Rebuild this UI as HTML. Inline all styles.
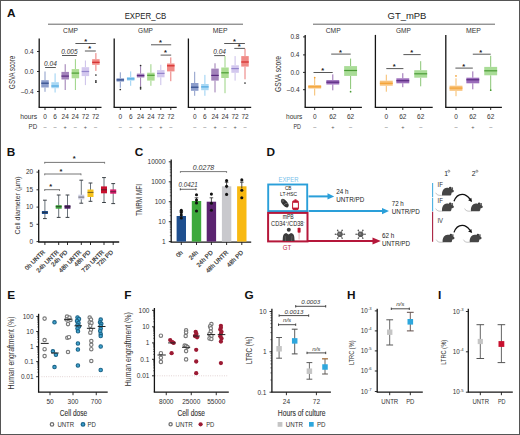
<!DOCTYPE html>
<html><head><meta charset="utf-8"><title>Figure</title>
<style>
html,body{margin:0;padding:0;background:#fff;}
body{width:520px;height:435px;overflow:hidden;}
svg{display:block;font-family:"Liberation Sans", sans-serif;}
</style></head><body>
<svg width="520" height="435" viewBox="0 0 520 435">
<rect width="520" height="435" fill="#fff"/>
<rect x="0.5" y="0.5" width="519" height="434" fill="none" stroke="#555" stroke-width="1"/>
<text x="6.90" y="16.60" font-size="11.8" text-anchor="start" fill="#111" font-weight="bold">A</text>
<text x="145.50" y="19.40" font-size="8.7" text-anchor="middle" fill="#222" textLength="41.7" lengthAdjust="spacingAndGlyphs">EXPER_CB</text>
<line x1="48.00" y1="24.20" x2="243.00" y2="24.20" stroke="#555" stroke-width="0.9"/>
<text x="407.00" y="19.20" font-size="8.7" text-anchor="middle" fill="#222" textLength="38.9" lengthAdjust="spacingAndGlyphs">GT_mPB</text>
<line x1="313.00" y1="24.20" x2="495.00" y2="24.20" stroke="#555" stroke-width="0.9"/>
<text x="70.50" y="32.90" font-size="6.6" text-anchor="middle" fill="#333" textLength="14.9" lengthAdjust="spacingAndGlyphs">CMP</text>
<line x1="39.20" y1="38.50" x2="39.20" y2="107.30" stroke="#151515" stroke-width="1.3"/>
<line x1="38.55" y1="107.30" x2="101.50" y2="107.30" stroke="#151515" stroke-width="1.3"/>
<line x1="45.00" y1="107.30" x2="45.00" y2="110.00" stroke="#151515" stroke-width="0.9"/>
<line x1="45.00" y1="71.50" x2="45.00" y2="80.20" stroke="#7d90c2" stroke-width="0.9"/>
<line x1="45.00" y1="87.50" x2="45.00" y2="91.80" stroke="#7d90c2" stroke-width="0.9"/>
<rect x="41.25" y="80.20" width="7.50" height="7.30" fill="#8c9dcb"/>
<line x1="41.25" y1="83.20" x2="48.75" y2="83.20" stroke="#2f4a8a" stroke-width="1.2"/>
<line x1="55.10" y1="107.30" x2="55.10" y2="110.00" stroke="#151515" stroke-width="0.9"/>
<line x1="55.10" y1="73.40" x2="55.10" y2="82.20" stroke="#8ccaf0" stroke-width="0.9"/>
<line x1="55.10" y1="88.20" x2="55.10" y2="92.50" stroke="#8ccaf0" stroke-width="0.9"/>
<rect x="51.35" y="82.20" width="7.50" height="6.00" fill="#a9d8f4"/>
<line x1="51.35" y1="86.00" x2="58.85" y2="86.00" stroke="#4aa6e0" stroke-width="1.2"/>
<line x1="65.20" y1="107.30" x2="65.20" y2="110.00" stroke="#151515" stroke-width="0.9"/>
<line x1="65.20" y1="64.20" x2="65.20" y2="71.90" stroke="#8e6aa8" stroke-width="0.9"/>
<line x1="65.20" y1="79.50" x2="65.20" y2="90.00" stroke="#8e6aa8" stroke-width="0.9"/>
<rect x="61.45" y="71.90" width="7.50" height="7.60" fill="#a383bb"/>
<line x1="61.45" y1="76.10" x2="68.95" y2="76.10" stroke="#5a2a80" stroke-width="1.2"/>
<line x1="75.40" y1="107.30" x2="75.40" y2="110.00" stroke="#151515" stroke-width="0.9"/>
<line x1="75.40" y1="59.20" x2="75.40" y2="69.10" stroke="#8fce74" stroke-width="0.9"/>
<line x1="75.40" y1="78.30" x2="75.40" y2="90.00" stroke="#8fce74" stroke-width="0.9"/>
<rect x="71.65" y="69.10" width="7.50" height="9.20" fill="#acdd92"/>
<line x1="71.65" y1="73.10" x2="79.15" y2="73.10" stroke="#4c9e34" stroke-width="1.2"/>
<line x1="85.40" y1="107.30" x2="85.40" y2="110.00" stroke="#151515" stroke-width="0.9"/>
<line x1="85.40" y1="60.50" x2="85.40" y2="67.20" stroke="#c4b8e6" stroke-width="0.9"/>
<line x1="85.40" y1="76.10" x2="85.40" y2="85.10" stroke="#c4b8e6" stroke-width="0.9"/>
<rect x="81.65" y="67.20" width="7.50" height="8.90" fill="#d3c8ee"/>
<line x1="81.65" y1="71.50" x2="89.15" y2="71.50" stroke="#9586cc" stroke-width="1.2"/>
<line x1="95.90" y1="107.30" x2="95.90" y2="110.00" stroke="#151515" stroke-width="0.9"/>
<line x1="95.90" y1="53.10" x2="95.90" y2="59.20" stroke="#e86a68" stroke-width="0.9"/>
<line x1="95.90" y1="64.80" x2="95.90" y2="70.90" stroke="#e86a68" stroke-width="0.9"/>
<rect x="92.15" y="59.20" width="7.50" height="5.60" fill="#f08a86"/>
<line x1="92.15" y1="62.30" x2="99.65" y2="62.30" stroke="#d42a2a" stroke-width="1.2"/>
<circle cx="95.90" cy="75.00" r="0.85" fill="#2a2a2a"/>
<circle cx="95.90" cy="80.80" r="0.85" fill="#2a2a2a"/>
<circle cx="95.90" cy="82.20" r="0.85" fill="#2a2a2a"/>
<text x="145.50" y="32.90" font-size="6.6" text-anchor="middle" fill="#333" textLength="14.9" lengthAdjust="spacingAndGlyphs">GMP</text>
<line x1="114.20" y1="38.50" x2="114.20" y2="107.30" stroke="#151515" stroke-width="1.3"/>
<line x1="113.55" y1="107.30" x2="176.70" y2="107.30" stroke="#151515" stroke-width="1.3"/>
<line x1="120.30" y1="107.30" x2="120.30" y2="110.00" stroke="#151515" stroke-width="0.9"/>
<line x1="120.30" y1="72.30" x2="120.30" y2="78.30" stroke="#7d90c2" stroke-width="0.9"/>
<line x1="120.30" y1="81.60" x2="120.30" y2="87.80" stroke="#7d90c2" stroke-width="0.9"/>
<rect x="116.55" y="78.30" width="7.50" height="3.30" fill="#8c9dcb"/>
<line x1="116.55" y1="79.90" x2="124.05" y2="79.90" stroke="#2f4a8a" stroke-width="1.2"/>
<circle cx="120.30" cy="89.50" r="0.85" fill="#2a2a2a"/>
<line x1="130.70" y1="107.30" x2="130.70" y2="110.00" stroke="#151515" stroke-width="0.9"/>
<line x1="130.70" y1="71.40" x2="130.70" y2="77.00" stroke="#8ccaf0" stroke-width="0.9"/>
<line x1="130.70" y1="80.60" x2="130.70" y2="85.80" stroke="#8ccaf0" stroke-width="0.9"/>
<rect x="126.95" y="77.00" width="7.50" height="3.60" fill="#a9d8f4"/>
<line x1="126.95" y1="78.90" x2="134.45" y2="78.90" stroke="#4aa6e0" stroke-width="1.2"/>
<line x1="140.60" y1="107.30" x2="140.60" y2="110.00" stroke="#151515" stroke-width="0.9"/>
<line x1="140.60" y1="66.20" x2="140.60" y2="73.60" stroke="#8e6aa8" stroke-width="0.9"/>
<line x1="140.60" y1="77.50" x2="140.60" y2="86.50" stroke="#8e6aa8" stroke-width="0.9"/>
<rect x="136.85" y="73.60" width="7.50" height="3.90" fill="#a383bb"/>
<line x1="136.85" y1="75.60" x2="144.35" y2="75.60" stroke="#5a2a80" stroke-width="1.2"/>
<circle cx="140.60" cy="65.50" r="0.85" fill="#2a2a2a"/>
<circle cx="140.60" cy="87.30" r="0.85" fill="#2a2a2a"/>
<circle cx="140.60" cy="88.80" r="0.85" fill="#2a2a2a"/>
<line x1="150.90" y1="107.30" x2="150.90" y2="110.00" stroke="#151515" stroke-width="0.9"/>
<line x1="150.90" y1="64.20" x2="150.90" y2="72.70" stroke="#8fce74" stroke-width="0.9"/>
<line x1="150.90" y1="80.60" x2="150.90" y2="85.80" stroke="#8fce74" stroke-width="0.9"/>
<rect x="147.15" y="72.70" width="7.50" height="7.90" fill="#acdd92"/>
<line x1="147.15" y1="75.30" x2="154.65" y2="75.30" stroke="#4c9e34" stroke-width="1.2"/>
<line x1="160.80" y1="107.30" x2="160.80" y2="110.00" stroke="#151515" stroke-width="0.9"/>
<line x1="160.80" y1="64.80" x2="160.80" y2="70.10" stroke="#c4b8e6" stroke-width="0.9"/>
<line x1="160.80" y1="77.30" x2="160.80" y2="85.10" stroke="#c4b8e6" stroke-width="0.9"/>
<rect x="157.05" y="70.10" width="7.50" height="7.20" fill="#d3c8ee"/>
<line x1="157.05" y1="73.40" x2="164.55" y2="73.40" stroke="#9586cc" stroke-width="1.2"/>
<line x1="170.80" y1="107.30" x2="170.80" y2="110.00" stroke="#151515" stroke-width="0.9"/>
<line x1="170.80" y1="57.40" x2="170.80" y2="63.50" stroke="#e86a68" stroke-width="0.9"/>
<line x1="170.80" y1="71.40" x2="170.80" y2="81.20" stroke="#e86a68" stroke-width="0.9"/>
<rect x="167.05" y="63.50" width="7.50" height="7.90" fill="#f08a86"/>
<line x1="167.05" y1="65.80" x2="174.55" y2="65.80" stroke="#d42a2a" stroke-width="1.2"/>
<text x="220.20" y="32.90" font-size="6.6" text-anchor="middle" fill="#333" textLength="14.9" lengthAdjust="spacingAndGlyphs">MEP</text>
<line x1="188.40" y1="38.50" x2="188.40" y2="107.30" stroke="#151515" stroke-width="1.3"/>
<line x1="187.75" y1="107.30" x2="251.20" y2="107.30" stroke="#151515" stroke-width="1.3"/>
<line x1="194.70" y1="107.30" x2="194.70" y2="110.00" stroke="#151515" stroke-width="0.9"/>
<line x1="194.70" y1="71.80" x2="194.70" y2="83.00" stroke="#7d90c2" stroke-width="0.9"/>
<line x1="194.70" y1="90.80" x2="194.70" y2="95.80" stroke="#7d90c2" stroke-width="0.9"/>
<rect x="190.95" y="83.00" width="7.50" height="7.80" fill="#8c9dcb"/>
<line x1="190.95" y1="87.20" x2="198.45" y2="87.20" stroke="#2f4a8a" stroke-width="1.2"/>
<line x1="204.90" y1="107.30" x2="204.90" y2="110.00" stroke="#151515" stroke-width="0.9"/>
<line x1="204.90" y1="74.90" x2="204.90" y2="84.00" stroke="#8ccaf0" stroke-width="0.9"/>
<line x1="204.90" y1="90.20" x2="204.90" y2="95.80" stroke="#8ccaf0" stroke-width="0.9"/>
<rect x="201.15" y="84.00" width="7.50" height="6.20" fill="#a9d8f4"/>
<line x1="201.15" y1="86.90" x2="208.65" y2="86.90" stroke="#4aa6e0" stroke-width="1.2"/>
<line x1="215.00" y1="107.30" x2="215.00" y2="110.00" stroke="#151515" stroke-width="0.9"/>
<line x1="215.00" y1="63.30" x2="215.00" y2="68.60" stroke="#8e6aa8" stroke-width="0.9"/>
<line x1="215.00" y1="80.60" x2="215.00" y2="92.40" stroke="#8e6aa8" stroke-width="0.9"/>
<rect x="211.25" y="68.60" width="7.50" height="12.00" fill="#a383bb"/>
<line x1="211.25" y1="75.40" x2="218.75" y2="75.40" stroke="#5a2a80" stroke-width="1.2"/>
<line x1="225.00" y1="107.30" x2="225.00" y2="110.00" stroke="#151515" stroke-width="0.9"/>
<line x1="225.00" y1="56.10" x2="225.00" y2="67.50" stroke="#8fce74" stroke-width="0.9"/>
<line x1="225.00" y1="78.00" x2="225.00" y2="93.20" stroke="#8fce74" stroke-width="0.9"/>
<rect x="221.25" y="67.50" width="7.50" height="10.50" fill="#acdd92"/>
<line x1="221.25" y1="72.80" x2="228.75" y2="72.80" stroke="#4c9e34" stroke-width="1.2"/>
<line x1="235.10" y1="107.30" x2="235.10" y2="110.00" stroke="#151515" stroke-width="0.9"/>
<line x1="235.10" y1="56.10" x2="235.10" y2="65.30" stroke="#c4b8e6" stroke-width="0.9"/>
<line x1="235.10" y1="72.80" x2="235.10" y2="80.60" stroke="#c4b8e6" stroke-width="0.9"/>
<rect x="231.35" y="65.30" width="7.50" height="7.50" fill="#d3c8ee"/>
<line x1="231.35" y1="68.60" x2="238.85" y2="68.60" stroke="#9586cc" stroke-width="1.2"/>
<line x1="245.00" y1="107.30" x2="245.00" y2="110.00" stroke="#151515" stroke-width="0.9"/>
<line x1="245.00" y1="48.70" x2="245.00" y2="56.10" stroke="#e86a68" stroke-width="0.9"/>
<line x1="245.00" y1="66.60" x2="245.00" y2="79.30" stroke="#e86a68" stroke-width="0.9"/>
<rect x="241.25" y="56.10" width="7.50" height="10.50" fill="#f08a86"/>
<line x1="241.25" y1="62.00" x2="248.75" y2="62.00" stroke="#d42a2a" stroke-width="1.2"/>
<circle cx="245.00" cy="83.00" r="0.85" fill="#2a2a2a"/>
<line x1="37.00" y1="51.50" x2="39.20" y2="51.50" stroke="#151515" stroke-width="0.9"/>
<text x="33.60" y="53.80" font-size="6.5" text-anchor="end" fill="#333">0.4</text>
<line x1="37.00" y1="71.50" x2="39.20" y2="71.50" stroke="#151515" stroke-width="0.9"/>
<text x="33.60" y="73.80" font-size="6.5" text-anchor="end" fill="#333">0.0</text>
<line x1="37.00" y1="91.50" x2="39.20" y2="91.50" stroke="#151515" stroke-width="0.9"/>
<text x="33.60" y="93.80" font-size="6.5" text-anchor="end" fill="#333">–0.4</text>
<text x="15.00" y="72.40" font-size="8.8" text-anchor="middle" fill="#333" textLength="33" lengthAdjust="spacingAndGlyphs" transform="rotate(-90 15.00 72.40)">GSVA score</text>
<text x="37.10" y="119.00" font-size="6.5" text-anchor="end" fill="#333" textLength="16.9" lengthAdjust="spacingAndGlyphs">hours</text>
<text x="37.10" y="129.20" font-size="6.5" text-anchor="end" fill="#333" textLength="8.6" lengthAdjust="spacingAndGlyphs">PD</text>
<text x="45.00" y="119.20" font-size="6.5" text-anchor="middle" fill="#333">0</text>
<text x="45.00" y="129.20" font-size="5.5" text-anchor="middle" fill="#555">–</text>
<text x="55.10" y="119.20" font-size="6.5" text-anchor="middle" fill="#333">6</text>
<text x="55.10" y="129.20" font-size="5.5" text-anchor="middle" fill="#555">–</text>
<text x="65.20" y="119.20" font-size="6.5" text-anchor="middle" fill="#333">24</text>
<text x="65.20" y="129.20" font-size="5.5" text-anchor="middle" fill="#555">+</text>
<text x="75.20" y="119.20" font-size="6.5" text-anchor="middle" fill="#333">24</text>
<text x="75.20" y="129.20" font-size="5.5" text-anchor="middle" fill="#555">–</text>
<text x="85.40" y="119.20" font-size="6.5" text-anchor="middle" fill="#333">72</text>
<text x="85.40" y="129.20" font-size="5.5" text-anchor="middle" fill="#555">+</text>
<text x="95.50" y="119.20" font-size="6.5" text-anchor="middle" fill="#333">72</text>
<text x="95.50" y="129.20" font-size="5.5" text-anchor="middle" fill="#555">–</text>
<text x="120.30" y="119.20" font-size="6.5" text-anchor="middle" fill="#333">0</text>
<text x="120.30" y="129.20" font-size="5.5" text-anchor="middle" fill="#555">–</text>
<text x="130.70" y="119.20" font-size="6.5" text-anchor="middle" fill="#333">6</text>
<text x="130.70" y="129.20" font-size="5.5" text-anchor="middle" fill="#555">–</text>
<text x="140.60" y="119.20" font-size="6.5" text-anchor="middle" fill="#333">24</text>
<text x="140.60" y="129.20" font-size="5.5" text-anchor="middle" fill="#555">+</text>
<text x="150.90" y="119.20" font-size="6.5" text-anchor="middle" fill="#333">24</text>
<text x="150.90" y="129.20" font-size="5.5" text-anchor="middle" fill="#555">–</text>
<text x="160.80" y="119.20" font-size="6.5" text-anchor="middle" fill="#333">72</text>
<text x="160.80" y="129.20" font-size="5.5" text-anchor="middle" fill="#555">+</text>
<text x="170.80" y="119.20" font-size="6.5" text-anchor="middle" fill="#333">72</text>
<text x="170.80" y="129.20" font-size="5.5" text-anchor="middle" fill="#555">–</text>
<text x="194.70" y="119.20" font-size="6.5" text-anchor="middle" fill="#333">0</text>
<text x="194.70" y="129.20" font-size="5.5" text-anchor="middle" fill="#555">–</text>
<text x="204.90" y="119.20" font-size="6.5" text-anchor="middle" fill="#333">6</text>
<text x="204.90" y="129.20" font-size="5.5" text-anchor="middle" fill="#555">–</text>
<text x="215.00" y="119.20" font-size="6.5" text-anchor="middle" fill="#333">24</text>
<text x="215.00" y="129.20" font-size="5.5" text-anchor="middle" fill="#555">+</text>
<text x="225.00" y="119.20" font-size="6.5" text-anchor="middle" fill="#333">24</text>
<text x="225.00" y="129.20" font-size="5.5" text-anchor="middle" fill="#555">–</text>
<text x="235.10" y="119.20" font-size="6.5" text-anchor="middle" fill="#333">72</text>
<text x="235.10" y="129.20" font-size="5.5" text-anchor="middle" fill="#555">+</text>
<text x="245.00" y="119.20" font-size="6.5" text-anchor="middle" fill="#333">72</text>
<text x="245.00" y="129.20" font-size="5.5" text-anchor="middle" fill="#555">–</text>
<line x1="45.10" y1="67.50" x2="55.80" y2="67.50" stroke="#444" stroke-width="0.9"/>
<text x="50.45" y="66.00" font-size="6.5" text-anchor="middle" fill="#333" font-style="italic">0.04</text>
<line x1="62.00" y1="55.50" x2="76.80" y2="55.50" stroke="#444" stroke-width="0.9"/>
<text x="69.40" y="54.00" font-size="6.5" text-anchor="middle" fill="#333" font-style="italic">0.005</text>
<line x1="75.40" y1="43.50" x2="95.80" y2="43.50" stroke="#444" stroke-width="0.9"/>
<text x="85.60" y="43.97" font-size="7.5" text-anchor="middle" fill="#222" font-weight="bold">*</text>
<line x1="84.90" y1="51.00" x2="95.80" y2="51.00" stroke="#444" stroke-width="0.9"/>
<text x="89.80" y="51.47" font-size="7.5" text-anchor="middle" fill="#222" font-weight="bold">*</text>
<line x1="151.00" y1="44.80" x2="171.20" y2="44.80" stroke="#444" stroke-width="0.9"/>
<text x="160.40" y="45.06" font-size="7.5" text-anchor="middle" fill="#222" font-weight="bold">*</text>
<line x1="160.60" y1="55.10" x2="171.20" y2="55.10" stroke="#444" stroke-width="0.9"/>
<text x="165.40" y="55.47" font-size="7.5" text-anchor="middle" fill="#222" font-weight="bold">*</text>
<line x1="214.20" y1="55.60" x2="225.00" y2="55.60" stroke="#444" stroke-width="0.9"/>
<text x="219.60" y="53.90" font-size="6.5" text-anchor="middle" fill="#333" font-style="italic">0.04</text>
<line x1="224.20" y1="43.50" x2="244.90" y2="43.50" stroke="#444" stroke-width="0.9"/>
<text x="234.55" y="43.56" font-size="7.5" text-anchor="middle" fill="#222" font-weight="bold">*</text>
<line x1="234.30" y1="48.40" x2="244.90" y2="48.40" stroke="#444" stroke-width="0.9"/>
<text x="239.20" y="49.37" font-size="7.5" text-anchor="middle" fill="#222" font-weight="bold">*</text>
<text x="333.20" y="32.90" font-size="6.6" text-anchor="middle" fill="#333" textLength="14.9" lengthAdjust="spacingAndGlyphs">CMP</text>
<line x1="305.20" y1="34.90" x2="305.20" y2="107.30" stroke="#151515" stroke-width="1.3"/>
<line x1="304.55" y1="107.30" x2="361.90" y2="107.30" stroke="#151515" stroke-width="1.3"/>
<line x1="314.70" y1="107.30" x2="314.70" y2="110.00" stroke="#151515" stroke-width="0.9"/>
<line x1="314.70" y1="77.60" x2="314.70" y2="85.10" stroke="#f5b458" stroke-width="0.9"/>
<line x1="314.70" y1="88.50" x2="314.70" y2="95.50" stroke="#f5b458" stroke-width="0.9"/>
<rect x="308.25" y="85.10" width="12.90" height="3.40" fill="#f8c27a"/>
<line x1="308.25" y1="86.80" x2="321.15" y2="86.80" stroke="#f3a234" stroke-width="1.2"/>
<circle cx="314.70" cy="77.60" r="0.85" fill="#f3a234"/>
<line x1="332.80" y1="107.30" x2="332.80" y2="110.00" stroke="#151515" stroke-width="0.9"/>
<line x1="332.80" y1="74.40" x2="332.80" y2="80.10" stroke="#8a5aa8" stroke-width="0.9"/>
<line x1="332.80" y1="84.50" x2="332.80" y2="90.30" stroke="#8a5aa8" stroke-width="0.9"/>
<rect x="326.35" y="80.10" width="12.90" height="4.40" fill="#9a6cba"/>
<line x1="326.35" y1="82.20" x2="339.25" y2="82.20" stroke="#5a2a80" stroke-width="1.2"/>
<line x1="350.60" y1="107.30" x2="350.60" y2="110.00" stroke="#151515" stroke-width="0.9"/>
<line x1="350.60" y1="58.60" x2="350.60" y2="66.10" stroke="#7cc064" stroke-width="0.9"/>
<line x1="350.60" y1="75.90" x2="350.60" y2="89.10" stroke="#7cc064" stroke-width="0.9"/>
<rect x="344.15" y="66.10" width="12.90" height="9.80" fill="#a9dc97"/>
<line x1="344.15" y1="70.50" x2="357.05" y2="70.50" stroke="#4b9b36" stroke-width="1.2"/>
<circle cx="350.60" cy="91.70" r="0.85" fill="#4b9b36"/>
<text x="403.40" y="32.90" font-size="6.6" text-anchor="middle" fill="#333" textLength="14.9" lengthAdjust="spacingAndGlyphs">GMP</text>
<line x1="375.40" y1="34.90" x2="375.40" y2="107.30" stroke="#151515" stroke-width="1.3"/>
<line x1="374.75" y1="107.30" x2="432.70" y2="107.30" stroke="#151515" stroke-width="1.3"/>
<line x1="386.30" y1="107.30" x2="386.30" y2="110.00" stroke="#151515" stroke-width="0.9"/>
<line x1="386.30" y1="74.70" x2="386.30" y2="80.70" stroke="#f5b458" stroke-width="0.9"/>
<line x1="386.30" y1="85.70" x2="386.30" y2="91.70" stroke="#f5b458" stroke-width="0.9"/>
<rect x="379.85" y="80.70" width="12.90" height="5.00" fill="#f8c27a"/>
<line x1="379.85" y1="83.30" x2="392.75" y2="83.30" stroke="#f3a234" stroke-width="1.2"/>
<line x1="402.80" y1="107.30" x2="402.80" y2="110.00" stroke="#151515" stroke-width="0.9"/>
<line x1="402.80" y1="73.20" x2="402.80" y2="78.30" stroke="#8a5aa8" stroke-width="0.9"/>
<line x1="402.80" y1="83.30" x2="402.80" y2="87.20" stroke="#8a5aa8" stroke-width="0.9"/>
<rect x="396.35" y="78.30" width="12.90" height="5.00" fill="#9a6cba"/>
<line x1="396.35" y1="80.70" x2="409.25" y2="80.70" stroke="#5a2a80" stroke-width="1.2"/>
<line x1="420.70" y1="107.30" x2="420.70" y2="110.00" stroke="#151515" stroke-width="0.9"/>
<line x1="420.70" y1="61.20" x2="420.70" y2="70.20" stroke="#7cc064" stroke-width="0.9"/>
<line x1="420.70" y1="77.70" x2="420.70" y2="86.30" stroke="#7cc064" stroke-width="0.9"/>
<rect x="414.25" y="70.20" width="12.90" height="7.50" fill="#a9dc97"/>
<line x1="414.25" y1="73.80" x2="427.15" y2="73.80" stroke="#4b9b36" stroke-width="1.2"/>
<text x="473.40" y="32.90" font-size="6.6" text-anchor="middle" fill="#333" textLength="14.9" lengthAdjust="spacingAndGlyphs">MEP</text>
<line x1="445.80" y1="34.90" x2="445.80" y2="107.30" stroke="#151515" stroke-width="1.3"/>
<line x1="445.15" y1="107.30" x2="501.90" y2="107.30" stroke="#151515" stroke-width="1.3"/>
<line x1="456.00" y1="107.30" x2="456.00" y2="110.00" stroke="#151515" stroke-width="0.9"/>
<line x1="456.00" y1="78.30" x2="456.00" y2="85.70" stroke="#f5b458" stroke-width="0.9"/>
<line x1="456.00" y1="90.80" x2="456.00" y2="96.20" stroke="#f5b458" stroke-width="0.9"/>
<rect x="449.55" y="85.70" width="12.90" height="5.10" fill="#f8c27a"/>
<line x1="449.55" y1="88.10" x2="462.45" y2="88.10" stroke="#f3a234" stroke-width="1.2"/>
<circle cx="456.00" cy="75.90" r="0.85" fill="#f3a234"/>
<line x1="472.80" y1="107.30" x2="472.80" y2="110.00" stroke="#151515" stroke-width="0.9"/>
<line x1="472.80" y1="71.40" x2="472.80" y2="77.70" stroke="#8a5aa8" stroke-width="0.9"/>
<line x1="472.80" y1="83.30" x2="472.80" y2="89.30" stroke="#8a5aa8" stroke-width="0.9"/>
<rect x="466.35" y="77.70" width="12.90" height="5.60" fill="#9a6cba"/>
<line x1="466.35" y1="79.80" x2="479.25" y2="79.80" stroke="#5a2a80" stroke-width="1.2"/>
<line x1="490.70" y1="107.30" x2="490.70" y2="110.00" stroke="#151515" stroke-width="0.9"/>
<line x1="490.70" y1="55.80" x2="490.70" y2="66.90" stroke="#7cc064" stroke-width="0.9"/>
<line x1="490.70" y1="75.30" x2="490.70" y2="90.20" stroke="#7cc064" stroke-width="0.9"/>
<rect x="484.25" y="66.90" width="12.90" height="8.40" fill="#a9dc97"/>
<line x1="484.25" y1="70.80" x2="497.15" y2="70.80" stroke="#4b9b36" stroke-width="1.2"/>
<circle cx="490.70" cy="90.20" r="0.85" fill="#4b9b36"/>
<line x1="303.00" y1="36.90" x2="305.20" y2="36.90" stroke="#151515" stroke-width="0.9"/>
<text x="299.50" y="39.20" font-size="6.5" text-anchor="end" fill="#333">0.8</text>
<line x1="303.00" y1="54.90" x2="305.20" y2="54.90" stroke="#151515" stroke-width="0.9"/>
<text x="299.50" y="57.20" font-size="6.5" text-anchor="end" fill="#333">0.4</text>
<line x1="303.00" y1="72.40" x2="305.20" y2="72.40" stroke="#151515" stroke-width="0.9"/>
<text x="299.50" y="74.70" font-size="6.5" text-anchor="end" fill="#333">0.0</text>
<line x1="303.00" y1="89.70" x2="305.20" y2="89.70" stroke="#151515" stroke-width="0.9"/>
<text x="299.50" y="92.00" font-size="6.5" text-anchor="end" fill="#333">–0.4</text>
<text x="281.20" y="73.90" font-size="9" text-anchor="middle" fill="#333" textLength="36" lengthAdjust="spacingAndGlyphs" transform="rotate(-90 281.20 73.90)">GSVA score</text>
<text x="302.40" y="119.00" font-size="6.5" text-anchor="end" fill="#333" textLength="16.4" lengthAdjust="spacingAndGlyphs">hours</text>
<text x="300.90" y="129.20" font-size="6.5" text-anchor="end" fill="#333" textLength="7.5" lengthAdjust="spacingAndGlyphs">PD</text>
<text x="314.70" y="119.20" font-size="6.5" text-anchor="middle" fill="#333">0</text>
<text x="314.70" y="129.20" font-size="5.5" text-anchor="middle" fill="#555">–</text>
<text x="332.80" y="119.20" font-size="6.5" text-anchor="middle" fill="#333">62</text>
<text x="332.80" y="129.20" font-size="5.5" text-anchor="middle" fill="#555">+</text>
<text x="350.60" y="119.20" font-size="6.5" text-anchor="middle" fill="#333">62</text>
<text x="350.60" y="129.20" font-size="5.5" text-anchor="middle" fill="#555">–</text>
<text x="386.30" y="119.20" font-size="6.5" text-anchor="middle" fill="#333">0</text>
<text x="386.30" y="129.20" font-size="5.5" text-anchor="middle" fill="#555">–</text>
<text x="402.80" y="119.20" font-size="6.5" text-anchor="middle" fill="#333">62</text>
<text x="402.80" y="129.20" font-size="5.5" text-anchor="middle" fill="#555">+</text>
<text x="420.70" y="119.20" font-size="6.5" text-anchor="middle" fill="#333">62</text>
<text x="420.70" y="129.20" font-size="5.5" text-anchor="middle" fill="#555">–</text>
<text x="456.00" y="119.20" font-size="6.5" text-anchor="middle" fill="#333">0</text>
<text x="456.00" y="129.20" font-size="5.5" text-anchor="middle" fill="#555">–</text>
<text x="472.80" y="119.20" font-size="6.5" text-anchor="middle" fill="#333">62</text>
<text x="472.80" y="129.20" font-size="5.5" text-anchor="middle" fill="#555">+</text>
<text x="490.70" y="119.20" font-size="6.5" text-anchor="middle" fill="#333">62</text>
<text x="490.70" y="129.20" font-size="5.5" text-anchor="middle" fill="#555">–</text>
<line x1="313.50" y1="72.50" x2="332.70" y2="72.50" stroke="#444" stroke-width="0.9"/>
<text x="322.60" y="73.47" font-size="7.5" text-anchor="middle" fill="#222" font-weight="bold">*</text>
<line x1="331.20" y1="54.10" x2="350.70" y2="54.10" stroke="#444" stroke-width="0.9"/>
<text x="340.40" y="54.66" font-size="7.5" text-anchor="middle" fill="#222" font-weight="bold">*</text>
<line x1="386.30" y1="68.60" x2="403.40" y2="68.60" stroke="#444" stroke-width="0.9"/>
<text x="394.20" y="69.06" font-size="7.5" text-anchor="middle" fill="#222" font-weight="bold">*</text>
<line x1="403.40" y1="54.60" x2="420.70" y2="54.60" stroke="#444" stroke-width="0.9"/>
<text x="411.80" y="54.97" font-size="7.5" text-anchor="middle" fill="#222" font-weight="bold">*</text>
<line x1="455.40" y1="68.10" x2="472.80" y2="68.10" stroke="#444" stroke-width="0.9"/>
<text x="463.80" y="68.56" font-size="7.5" text-anchor="middle" fill="#222" font-weight="bold">*</text>
<line x1="472.80" y1="54.20" x2="490.70" y2="54.20" stroke="#444" stroke-width="0.9"/>
<text x="480.80" y="55.06" font-size="7.5" text-anchor="middle" fill="#222" font-weight="bold">*</text>
<text x="6.70" y="155.80" font-size="11.8" text-anchor="start" fill="#111" font-weight="bold">B</text>
<line x1="38.70" y1="169.80" x2="38.70" y2="242.00" stroke="#151515" stroke-width="1.3"/>
<line x1="38.10" y1="242.00" x2="119.20" y2="242.00" stroke="#151515" stroke-width="1.3"/>
<line x1="36.50" y1="172.10" x2="38.70" y2="172.10" stroke="#151515" stroke-width="0.9"/>
<text x="33.20" y="174.40" font-size="6.5" text-anchor="end" fill="#333">20</text>
<line x1="36.50" y1="189.80" x2="38.70" y2="189.80" stroke="#151515" stroke-width="0.9"/>
<text x="33.20" y="192.10" font-size="6.5" text-anchor="end" fill="#333">15</text>
<line x1="36.50" y1="207.10" x2="38.70" y2="207.10" stroke="#151515" stroke-width="0.9"/>
<text x="33.20" y="209.40" font-size="6.5" text-anchor="end" fill="#333">10</text>
<line x1="36.50" y1="224.30" x2="38.70" y2="224.30" stroke="#151515" stroke-width="0.9"/>
<text x="33.20" y="226.60" font-size="6.5" text-anchor="end" fill="#333">5</text>
<line x1="36.50" y1="241.60" x2="38.70" y2="241.60" stroke="#151515" stroke-width="0.9"/>
<text x="33.20" y="243.90" font-size="6.5" text-anchor="end" fill="#333">0</text>
<text x="20.00" y="205.50" font-size="7.6" text-anchor="middle" fill="#333" textLength="58" lengthAdjust="spacingAndGlyphs" transform="rotate(-90 20.00 205.50)">Cell diameter (µm)</text>
<line x1="44.90" y1="242.00" x2="44.90" y2="245.00" stroke="#151515" stroke-width="0.9"/>
<line x1="44.90" y1="200.20" x2="44.90" y2="218.60" stroke="#4f5a62" stroke-width="0.85"/>
<line x1="43.00" y1="200.20" x2="46.80" y2="200.20" stroke="#3a3f44" stroke-width="1.0"/>
<line x1="43.00" y1="218.60" x2="46.80" y2="218.60" stroke="#3a3f44" stroke-width="1.0"/>
<rect x="41.90" y="211.00" width="6.00" height="3.00" fill="#1f4f8f"/>
<line x1="41.90" y1="212.40" x2="47.90" y2="212.40" stroke="#222" stroke-width="0.6"/>
<text x="45.30" y="252.60" font-size="6.1" text-anchor="end" fill="#333" stroke="#333" stroke-width="0.2" transform="rotate(-45 45.30 252.60)">0h UNTR</text>
<line x1="58.70" y1="242.00" x2="58.70" y2="245.00" stroke="#151515" stroke-width="0.9"/>
<line x1="58.70" y1="195.00" x2="58.70" y2="217.40" stroke="#4f5a62" stroke-width="0.85"/>
<line x1="56.80" y1="195.00" x2="60.60" y2="195.00" stroke="#3a3f44" stroke-width="1.0"/>
<line x1="56.80" y1="217.40" x2="60.60" y2="217.40" stroke="#3a3f44" stroke-width="1.0"/>
<rect x="55.70" y="205.20" width="6.00" height="3.50" fill="#3da23c"/>
<line x1="55.70" y1="206.60" x2="61.70" y2="206.60" stroke="#222" stroke-width="0.6"/>
<text x="59.10" y="252.60" font-size="6.1" text-anchor="end" fill="#333" stroke="#333" stroke-width="0.2" transform="rotate(-45 59.10 252.60)">24h UNTR</text>
<line x1="67.50" y1="242.00" x2="67.50" y2="245.00" stroke="#151515" stroke-width="0.9"/>
<line x1="67.50" y1="195.00" x2="67.50" y2="217.40" stroke="#4f5a62" stroke-width="0.85"/>
<line x1="65.60" y1="195.00" x2="69.40" y2="195.00" stroke="#3a3f44" stroke-width="1.0"/>
<line x1="65.60" y1="217.40" x2="69.40" y2="217.40" stroke="#3a3f44" stroke-width="1.0"/>
<rect x="64.50" y="205.20" width="6.00" height="3.50" fill="#4b1d63"/>
<line x1="64.50" y1="206.60" x2="70.50" y2="206.60" stroke="#222" stroke-width="0.6"/>
<text x="67.90" y="252.60" font-size="6.1" text-anchor="end" fill="#333" stroke="#333" stroke-width="0.2" transform="rotate(-45 67.90 252.60)">24h PD</text>
<line x1="81.30" y1="242.00" x2="81.30" y2="245.00" stroke="#151515" stroke-width="0.9"/>
<line x1="81.30" y1="180.20" x2="81.30" y2="203.20" stroke="#4f5a62" stroke-width="0.85"/>
<line x1="79.40" y1="180.20" x2="83.20" y2="180.20" stroke="#3a3f44" stroke-width="1.0"/>
<line x1="79.40" y1="203.20" x2="83.20" y2="203.20" stroke="#3a3f44" stroke-width="1.0"/>
<rect x="78.30" y="194.70" width="6.00" height="4.70" fill="#cfd0e4"/>
<line x1="78.30" y1="197.10" x2="84.30" y2="197.10" stroke="#222" stroke-width="0.6"/>
<text x="81.70" y="252.60" font-size="6.1" text-anchor="end" fill="#333" stroke="#333" stroke-width="0.2" transform="rotate(-45 81.70 252.60)">48h UNTR</text>
<line x1="90.50" y1="242.00" x2="90.50" y2="245.00" stroke="#151515" stroke-width="0.9"/>
<line x1="90.50" y1="183.00" x2="90.50" y2="201.30" stroke="#4f5a62" stroke-width="0.85"/>
<line x1="88.60" y1="183.00" x2="92.40" y2="183.00" stroke="#3a3f44" stroke-width="1.0"/>
<line x1="88.60" y1="201.30" x2="92.40" y2="201.30" stroke="#3a3f44" stroke-width="1.0"/>
<rect x="87.50" y="189.50" width="6.00" height="7.50" fill="#f6c21a"/>
<line x1="87.50" y1="192.40" x2="93.50" y2="192.40" stroke="#222" stroke-width="0.6"/>
<text x="90.90" y="252.60" font-size="6.1" text-anchor="end" fill="#333" stroke="#333" stroke-width="0.2" transform="rotate(-45 90.90 252.60)">48h PD</text>
<line x1="104.00" y1="242.00" x2="104.00" y2="245.00" stroke="#151515" stroke-width="0.9"/>
<line x1="104.00" y1="177.60" x2="104.00" y2="202.50" stroke="#4f5a62" stroke-width="0.85"/>
<line x1="102.10" y1="177.60" x2="105.90" y2="177.60" stroke="#3a3f44" stroke-width="1.0"/>
<line x1="102.10" y1="202.50" x2="105.90" y2="202.50" stroke="#3a3f44" stroke-width="1.0"/>
<rect x="101.00" y="186.40" width="6.00" height="6.90" fill="#c8102e"/>
<line x1="101.00" y1="189.80" x2="107.00" y2="189.80" stroke="#222" stroke-width="0.6"/>
<text x="104.40" y="252.60" font-size="6.1" text-anchor="end" fill="#333" stroke="#333" stroke-width="0.2" transform="rotate(-45 104.40 252.60)">72h UNTR</text>
<line x1="113.20" y1="242.00" x2="113.20" y2="245.00" stroke="#151515" stroke-width="0.9"/>
<line x1="113.20" y1="183.60" x2="113.20" y2="203.60" stroke="#4f5a62" stroke-width="0.85"/>
<line x1="111.30" y1="183.60" x2="115.10" y2="183.60" stroke="#3a3f44" stroke-width="1.0"/>
<line x1="111.30" y1="203.60" x2="115.10" y2="203.60" stroke="#3a3f44" stroke-width="1.0"/>
<rect x="110.20" y="189.40" width="6.00" height="4.30" fill="#d81b6a"/>
<line x1="110.20" y1="191.70" x2="116.20" y2="191.70" stroke="#222" stroke-width="0.6"/>
<text x="113.60" y="252.60" font-size="6.1" text-anchor="end" fill="#333" stroke="#333" stroke-width="0.2" transform="rotate(-45 113.60 252.60)">72h PD</text>
<line x1="44.70" y1="162.40" x2="104.60" y2="162.40" stroke="#666" stroke-width="0.9"/>
<line x1="44.70" y1="161.90" x2="44.70" y2="163.70" stroke="#666" stroke-width="0.8"/>
<line x1="104.60" y1="161.90" x2="104.60" y2="163.70" stroke="#666" stroke-width="0.8"/>
<text x="74.30" y="161.46" font-size="7.5" text-anchor="middle" fill="#222" font-weight="bold">*</text>
<line x1="44.70" y1="174.00" x2="81.00" y2="174.00" stroke="#666" stroke-width="0.9"/>
<line x1="44.70" y1="173.50" x2="44.70" y2="175.30" stroke="#666" stroke-width="0.8"/>
<line x1="81.00" y1="173.50" x2="81.00" y2="175.30" stroke="#666" stroke-width="0.8"/>
<text x="60.90" y="174.36" font-size="7.5" text-anchor="middle" fill="#222" font-weight="bold">*</text>
<line x1="44.70" y1="189.70" x2="59.50" y2="189.70" stroke="#666" stroke-width="0.9"/>
<line x1="44.70" y1="189.20" x2="44.70" y2="191.00" stroke="#666" stroke-width="0.8"/>
<line x1="59.50" y1="189.20" x2="59.50" y2="191.00" stroke="#666" stroke-width="0.8"/>
<text x="50.80" y="189.46" font-size="7.5" text-anchor="middle" fill="#222" font-weight="bold">*</text>
<text x="134.80" y="156.00" font-size="11.8" text-anchor="start" fill="#111" font-weight="bold">C</text>
<line x1="171.20" y1="159.50" x2="171.20" y2="242.20" stroke="#151515" stroke-width="1.3"/>
<line x1="170.60" y1="242.20" x2="251.20" y2="242.20" stroke="#151515" stroke-width="1.3"/>
<line x1="168.80" y1="161.80" x2="171.20" y2="161.80" stroke="#151515" stroke-width="0.9"/>
<text x="165.60" y="164.10" font-size="6.5" text-anchor="end" fill="#333">10000</text>
<line x1="169.80" y1="175.74" x2="171.20" y2="175.74" stroke="#151515" stroke-width="0.5"/>
<line x1="169.80" y1="172.23" x2="171.20" y2="172.23" stroke="#151515" stroke-width="0.5"/>
<line x1="169.80" y1="169.74" x2="171.20" y2="169.74" stroke="#151515" stroke-width="0.5"/>
<line x1="169.80" y1="167.81" x2="171.20" y2="167.81" stroke="#151515" stroke-width="0.5"/>
<line x1="169.80" y1="166.23" x2="171.20" y2="166.23" stroke="#151515" stroke-width="0.5"/>
<line x1="169.80" y1="164.89" x2="171.20" y2="164.89" stroke="#151515" stroke-width="0.5"/>
<line x1="169.80" y1="163.73" x2="171.20" y2="163.73" stroke="#151515" stroke-width="0.5"/>
<line x1="169.80" y1="162.71" x2="171.20" y2="162.71" stroke="#151515" stroke-width="0.5"/>
<line x1="168.80" y1="181.80" x2="171.20" y2="181.80" stroke="#151515" stroke-width="0.9"/>
<text x="165.60" y="184.10" font-size="6.5" text-anchor="end" fill="#333">1000</text>
<line x1="169.80" y1="195.74" x2="171.20" y2="195.74" stroke="#151515" stroke-width="0.5"/>
<line x1="169.80" y1="192.23" x2="171.20" y2="192.23" stroke="#151515" stroke-width="0.5"/>
<line x1="169.80" y1="189.74" x2="171.20" y2="189.74" stroke="#151515" stroke-width="0.5"/>
<line x1="169.80" y1="187.81" x2="171.20" y2="187.81" stroke="#151515" stroke-width="0.5"/>
<line x1="169.80" y1="186.23" x2="171.20" y2="186.23" stroke="#151515" stroke-width="0.5"/>
<line x1="169.80" y1="184.89" x2="171.20" y2="184.89" stroke="#151515" stroke-width="0.5"/>
<line x1="169.80" y1="183.73" x2="171.20" y2="183.73" stroke="#151515" stroke-width="0.5"/>
<line x1="169.80" y1="182.71" x2="171.20" y2="182.71" stroke="#151515" stroke-width="0.5"/>
<line x1="168.80" y1="201.70" x2="171.20" y2="201.70" stroke="#151515" stroke-width="0.9"/>
<text x="165.60" y="204.00" font-size="6.5" text-anchor="end" fill="#333">100</text>
<line x1="169.80" y1="215.64" x2="171.20" y2="215.64" stroke="#151515" stroke-width="0.5"/>
<line x1="169.80" y1="212.13" x2="171.20" y2="212.13" stroke="#151515" stroke-width="0.5"/>
<line x1="169.80" y1="209.64" x2="171.20" y2="209.64" stroke="#151515" stroke-width="0.5"/>
<line x1="169.80" y1="207.71" x2="171.20" y2="207.71" stroke="#151515" stroke-width="0.5"/>
<line x1="169.80" y1="206.13" x2="171.20" y2="206.13" stroke="#151515" stroke-width="0.5"/>
<line x1="169.80" y1="204.79" x2="171.20" y2="204.79" stroke="#151515" stroke-width="0.5"/>
<line x1="169.80" y1="203.63" x2="171.20" y2="203.63" stroke="#151515" stroke-width="0.5"/>
<line x1="169.80" y1="202.61" x2="171.20" y2="202.61" stroke="#151515" stroke-width="0.5"/>
<line x1="168.80" y1="221.70" x2="171.20" y2="221.70" stroke="#151515" stroke-width="0.9"/>
<text x="165.60" y="224.00" font-size="6.5" text-anchor="end" fill="#333">10</text>
<line x1="169.80" y1="235.64" x2="171.20" y2="235.64" stroke="#151515" stroke-width="0.5"/>
<line x1="169.80" y1="232.13" x2="171.20" y2="232.13" stroke="#151515" stroke-width="0.5"/>
<line x1="169.80" y1="229.64" x2="171.20" y2="229.64" stroke="#151515" stroke-width="0.5"/>
<line x1="169.80" y1="227.71" x2="171.20" y2="227.71" stroke="#151515" stroke-width="0.5"/>
<line x1="169.80" y1="226.13" x2="171.20" y2="226.13" stroke="#151515" stroke-width="0.5"/>
<line x1="169.80" y1="224.79" x2="171.20" y2="224.79" stroke="#151515" stroke-width="0.5"/>
<line x1="169.80" y1="223.63" x2="171.20" y2="223.63" stroke="#151515" stroke-width="0.5"/>
<line x1="169.80" y1="222.61" x2="171.20" y2="222.61" stroke="#151515" stroke-width="0.5"/>
<line x1="168.80" y1="241.60" x2="171.20" y2="241.60" stroke="#151515" stroke-width="0.9"/>
<text x="165.60" y="243.90" font-size="6.5" text-anchor="end" fill="#333">1</text>
<text x="142.20" y="200.00" font-size="8.3" text-anchor="middle" fill="#333" textLength="32.2" lengthAdjust="spacingAndGlyphs" transform="rotate(-90 142.20 200.00)">TMRM MFI</text>
<rect x="176.60" y="216.00" width="9.40" height="25.60" fill="#1f4f8f"/>
<line x1="181.30" y1="211.60" x2="181.30" y2="218.00" stroke="#222" stroke-width="0.8"/>
<line x1="179.50" y1="211.60" x2="183.10" y2="211.60" stroke="#222" stroke-width="0.8"/>
<circle cx="181.30" cy="210.20" r="1.55" fill="#111"/>
<circle cx="181.30" cy="212.50" r="1.55" fill="#111"/>
<circle cx="181.30" cy="215.00" r="1.55" fill="#111"/>
<circle cx="181.30" cy="218.00" r="1.55" fill="#111"/>
<line x1="181.30" y1="242.20" x2="181.30" y2="245.00" stroke="#151515" stroke-width="0.9"/>
<text x="183.20" y="253.00" font-size="6.1" text-anchor="end" fill="#333" stroke="#333" stroke-width="0.2" transform="rotate(-45 183.20 253.00)">0h</text>
<rect x="191.80" y="201.00" width="9.40" height="40.60" fill="#3da93c"/>
<line x1="196.50" y1="197.80" x2="196.50" y2="203.00" stroke="#222" stroke-width="0.8"/>
<line x1="194.70" y1="197.80" x2="198.30" y2="197.80" stroke="#222" stroke-width="0.8"/>
<circle cx="196.50" cy="194.80" r="1.55" fill="#111"/>
<circle cx="196.50" cy="200.00" r="1.55" fill="#111"/>
<circle cx="196.50" cy="203.00" r="1.55" fill="#111"/>
<circle cx="196.50" cy="211.00" r="1.55" fill="#111"/>
<line x1="196.50" y1="242.20" x2="196.50" y2="245.00" stroke="#151515" stroke-width="0.9"/>
<text x="198.40" y="253.00" font-size="6.1" text-anchor="end" fill="#333" stroke="#333" stroke-width="0.2" transform="rotate(-45 198.40 253.00)">24h</text>
<rect x="206.70" y="201.70" width="9.40" height="39.90" fill="#5b2370"/>
<line x1="211.40" y1="197.80" x2="211.40" y2="203.70" stroke="#222" stroke-width="0.8"/>
<line x1="209.60" y1="197.80" x2="213.20" y2="197.80" stroke="#222" stroke-width="0.8"/>
<circle cx="211.40" cy="194.10" r="1.55" fill="#111"/>
<circle cx="211.40" cy="203.30" r="1.55" fill="#111"/>
<circle cx="211.40" cy="210.20" r="1.55" fill="#111"/>
<line x1="211.40" y1="242.20" x2="211.40" y2="245.00" stroke="#151515" stroke-width="0.9"/>
<text x="213.30" y="253.00" font-size="6.1" text-anchor="end" fill="#333" stroke="#333" stroke-width="0.2" transform="rotate(-45 213.30 253.00)">24h PD</text>
<rect x="221.90" y="186.30" width="9.40" height="55.30" fill="#c9c9cd"/>
<line x1="226.60" y1="182.20" x2="226.60" y2="188.30" stroke="#222" stroke-width="0.8"/>
<line x1="224.80" y1="182.20" x2="228.40" y2="182.20" stroke="#222" stroke-width="0.8"/>
<circle cx="226.60" cy="180.60" r="1.55" fill="#111"/>
<circle cx="226.60" cy="186.30" r="1.55" fill="#111"/>
<circle cx="226.60" cy="194.40" r="1.55" fill="#111"/>
<line x1="226.60" y1="242.20" x2="226.60" y2="245.00" stroke="#151515" stroke-width="0.9"/>
<text x="228.50" y="253.00" font-size="6.1" text-anchor="end" fill="#333" stroke="#333" stroke-width="0.2" transform="rotate(-45 228.50 253.00)">48h UNTR</text>
<rect x="237.10" y="186.30" width="9.40" height="55.30" fill="#f8b912"/>
<line x1="241.80" y1="182.20" x2="241.80" y2="188.30" stroke="#222" stroke-width="0.8"/>
<line x1="240.00" y1="182.20" x2="243.60" y2="182.20" stroke="#222" stroke-width="0.8"/>
<circle cx="241.80" cy="179.90" r="1.55" fill="#111"/>
<circle cx="241.80" cy="190.20" r="1.55" fill="#111"/>
<circle cx="241.80" cy="197.80" r="1.55" fill="#111"/>
<line x1="241.80" y1="242.20" x2="241.80" y2="245.00" stroke="#151515" stroke-width="0.9"/>
<text x="243.70" y="253.00" font-size="6.1" text-anchor="end" fill="#333" stroke="#333" stroke-width="0.2" transform="rotate(-45 243.70 253.00)">48h PD</text>
<line x1="180.40" y1="171.60" x2="226.60" y2="171.60" stroke="#6a6a6a" stroke-width="0.9"/>
<line x1="180.40" y1="171.10" x2="180.40" y2="172.90" stroke="#6a6a6a" stroke-width="0.8"/>
<line x1="226.60" y1="171.10" x2="226.60" y2="172.90" stroke="#6a6a6a" stroke-width="0.8"/>
<text x="203.50" y="169.60" font-size="7" text-anchor="middle" fill="#333" font-style="italic">0.0278</text>
<line x1="180.30" y1="189.30" x2="196.00" y2="189.30" stroke="#444" stroke-width="0.8"/>
<line x1="180.30" y1="188.30" x2="180.30" y2="190.30" stroke="#333" stroke-width="0.9"/>
<line x1="196.00" y1="188.30" x2="196.00" y2="190.30" stroke="#333" stroke-width="0.9"/>
<text x="188.20" y="186.70" font-size="7" text-anchor="middle" fill="#333" font-style="italic" textLength="19.2" lengthAdjust="spacingAndGlyphs">0.0421</text>
<text x="266.60" y="156.10" font-size="11.8" text-anchor="start" fill="#111" font-weight="bold">D</text>
<text x="288.50" y="182.40" font-size="7" text-anchor="middle" fill="#7cc2ea" textLength="20" lengthAdjust="spacingAndGlyphs">EXPER</text>
<rect x="268.2" y="184.5" width="39.0" height="26.6" fill="none" stroke="#2a9fd9" stroke-width="1.9"/>
<text x="288.20" y="189.80" font-size="6.2" text-anchor="middle" fill="#222" textLength="6.6" lengthAdjust="spacingAndGlyphs">CB</text>
<text x="288.60" y="196.40" font-size="6.2" text-anchor="middle" fill="#222" textLength="17" lengthAdjust="spacingAndGlyphs">LT-HSC</text>
<g transform="translate(284.8,203.2) rotate(-40)"><ellipse cx="0" cy="0" rx="2.6" ry="5" fill="#333"/><circle cx="0" cy="-3.3" r="1.6" fill="#555"/><path d="M-2.2,1 Q0,0 2.2,2" stroke="#999" stroke-width="0.5" fill="none"/></g>
<rect x="292.6" y="200.8" width="5.8" height="8.8" rx="1.5" fill="#fff" stroke="#c0152f" stroke-width="1"/>
<rect x="292.6" y="200.8" width="5.8" height="2" fill="#c0152f"/><rect x="292.6" y="207.6" width="5.8" height="2" fill="#c0152f"/>
<rect x="294.5" y="199.3" width="2" height="1.5" fill="#c0152f"/>
<line x1="308.50" y1="196.40" x2="329.00" y2="196.40" stroke="#2a9fd9" stroke-width="2"/>
<path d="M327.5,193.3 L334.2,196.4 L327.5,199.5 Z" fill="#2a9fd9"/>
<line x1="308.50" y1="211.10" x2="383.00" y2="211.10" stroke="#2a9fd9" stroke-width="2"/>
<path d="M382,208 L389,211.1 L382,214.2 Z" fill="#2a9fd9"/>
<text x="336.20" y="194.30" font-size="6.8" text-anchor="start" fill="#222" textLength="12.3" lengthAdjust="spacingAndGlyphs">24 h</text>
<text x="336.20" y="202.30" font-size="6.8" text-anchor="start" fill="#222" textLength="28" lengthAdjust="spacingAndGlyphs">UNTR/PD</text>
<text x="391.80" y="205.80" font-size="6.8" text-anchor="start" fill="#222" textLength="12" lengthAdjust="spacingAndGlyphs">72 h</text>
<text x="391.80" y="213.80" font-size="6.8" text-anchor="start" fill="#222" textLength="28" lengthAdjust="spacingAndGlyphs">UNTR/PD</text>
<rect x="268.1" y="212.9" width="39.4" height="28.5" fill="none" stroke="#b5173a" stroke-width="2"/>
<text x="288.20" y="218.60" font-size="6.4" text-anchor="middle" fill="#222" textLength="11" lengthAdjust="spacingAndGlyphs">mPB</text>
<text x="287.90" y="225.60" font-size="6.3" text-anchor="middle" fill="#222" textLength="33.6" lengthAdjust="spacingAndGlyphs">CD34<tspan font-size="4" dy="-2.3">+</tspan><tspan dy="2.3">/CD38</tspan><tspan font-size="4" dy="-2.3">-</tspan></text>
<g fill="#3c3c3c"><circle cx="288.8" cy="229.8" r="2.0"/><path d="M282.6,241 L282.9,237 Q283.2,233.4 286.2,232.9 L288.6,234.6 L291,232.9 Q294,233.4 294.3,237 L294.6,241 Z"/></g>
<path d="M285.2,236 L285.6,241 M292,236 L291.6,241" stroke="#8a8a8a" stroke-width="0.4" fill="none"/>
<rect x="297.6" y="227.8" width="3" height="5" rx="0.8" fill="#c0152f"/><line x1="299.1" y1="232.8" x2="299.1" y2="239.5" stroke="#d06070" stroke-width="0.5"/>
<line x1="307.50" y1="241.00" x2="373.50" y2="241.00" stroke="#b5173a" stroke-width="2.2"/>
<path d="M372.5,237.5 L380.8,241.0 L372.5,244.5 Z" fill="#b5173a"/>
<text x="287.10" y="249.80" font-size="7" text-anchor="middle" fill="#c0253f" textLength="8.5" lengthAdjust="spacingAndGlyphs">GT</text>
<text x="382.00" y="238.40" font-size="6.8" text-anchor="start" fill="#222" textLength="12.3" lengthAdjust="spacingAndGlyphs">62 h</text>
<text x="382.00" y="246.40" font-size="6.8" text-anchor="start" fill="#222" textLength="28" lengthAdjust="spacingAndGlyphs">UNTR/PD</text>
<line x1="339.90" y1="234.30" x2="344.20" y2="234.30" stroke="#6a6a6a" stroke-width="0.8"/><circle cx="344.40" cy="234.30" r="0.8" fill="#5a5a5a"/><line x1="339.90" y1="234.30" x2="342.05" y2="238.02" stroke="#6a6a6a" stroke-width="0.8"/><circle cx="342.15" cy="238.20" r="0.8" fill="#5a5a5a"/><line x1="339.90" y1="234.30" x2="337.75" y2="238.02" stroke="#6a6a6a" stroke-width="0.8"/><circle cx="337.65" cy="238.20" r="0.8" fill="#5a5a5a"/><line x1="339.90" y1="234.30" x2="335.60" y2="234.30" stroke="#6a6a6a" stroke-width="0.8"/><circle cx="335.40" cy="234.30" r="0.8" fill="#5a5a5a"/><line x1="339.90" y1="234.30" x2="337.75" y2="230.58" stroke="#6a6a6a" stroke-width="0.8"/><circle cx="337.65" cy="230.40" r="0.8" fill="#5a5a5a"/><line x1="339.90" y1="234.30" x2="342.05" y2="230.58" stroke="#6a6a6a" stroke-width="0.8"/><circle cx="342.15" cy="230.40" r="0.8" fill="#5a5a5a"/><circle cx="339.9" cy="234.3" r="2.8" fill="#5a5a5a"/><circle cx="339.4" cy="233.9" r="1.2" fill="#7a7a7a"/>
<line x1="360.60" y1="234.30" x2="364.90" y2="234.30" stroke="#6a6a6a" stroke-width="0.8"/><circle cx="365.10" cy="234.30" r="0.8" fill="#5a5a5a"/><line x1="360.60" y1="234.30" x2="362.75" y2="238.02" stroke="#6a6a6a" stroke-width="0.8"/><circle cx="362.85" cy="238.20" r="0.8" fill="#5a5a5a"/><line x1="360.60" y1="234.30" x2="358.45" y2="238.02" stroke="#6a6a6a" stroke-width="0.8"/><circle cx="358.35" cy="238.20" r="0.8" fill="#5a5a5a"/><line x1="360.60" y1="234.30" x2="356.30" y2="234.30" stroke="#6a6a6a" stroke-width="0.8"/><circle cx="356.10" cy="234.30" r="0.8" fill="#5a5a5a"/><line x1="360.60" y1="234.30" x2="358.45" y2="230.58" stroke="#6a6a6a" stroke-width="0.8"/><circle cx="358.35" cy="230.40" r="0.8" fill="#5a5a5a"/><line x1="360.60" y1="234.30" x2="362.75" y2="230.58" stroke="#6a6a6a" stroke-width="0.8"/><circle cx="362.85" cy="230.40" r="0.8" fill="#5a5a5a"/><circle cx="360.6" cy="234.3" r="2.8" fill="#5a5a5a"/><circle cx="360.1" cy="233.9" r="1.2" fill="#7a7a7a"/>
<text x="444.20" y="175.70" font-size="6.8" text-anchor="start" fill="#222">1</text>
<circle cx="448.80" cy="171.20" r="1.05" fill="none" stroke="#333" stroke-width="0.5"/>
<text x="471.80" y="175.70" font-size="6.8" text-anchor="start" fill="#222">2</text>
<circle cx="476.90" cy="171.20" r="1.05" fill="none" stroke="#333" stroke-width="0.5"/>
<line x1="432.60" y1="183.00" x2="432.60" y2="196.90" stroke="#4ab0e0" stroke-width="1.1"/>
<line x1="432.60" y1="197.70" x2="432.60" y2="211.30" stroke="#4ab0e0" stroke-width="1.1"/>
<line x1="432.60" y1="211.80" x2="432.60" y2="241.80" stroke="#a8203f" stroke-width="1.1"/>
<text x="437.60" y="187.30" font-size="6.8" text-anchor="start" fill="#333" textLength="5.4" lengthAdjust="spacingAndGlyphs">IF</text>
<text x="437.60" y="203.00" font-size="6.8" text-anchor="start" fill="#333" textLength="5.4" lengthAdjust="spacingAndGlyphs">IF</text>
<text x="437.40" y="222.90" font-size="6.8" text-anchor="start" fill="#333" textLength="5.6" lengthAdjust="spacingAndGlyphs">IV</text>
<g transform="translate(442.10,195.40)"><path d="M0.6,-0.3 C-2,0.2 -5,0.3 -6.4,-2.6" stroke="#999" stroke-width="0.6" fill="none"/><path d="M0,0 C-0.6,-4.6 2,-7.6 4.8,-7.6 C6.6,-7.6 7.6,-7 8.3,-6.4 L10.2,-6.6 L11.8,-4.6 L11.5,-3.4 L9.4,-2.6 C9.5,-1.2 9,-0.2 8.4,0 Z" fill="#454545"/><circle cx="8.1" cy="-7.4" r="1.25" fill="#3a3a3a"/><circle cx="10.1" cy="-7.2" r="0.95" fill="#555"/></g>
<g transform="translate(442.10,211.20)"><path d="M0.6,-0.3 C-2,0.2 -5,0.3 -6.4,-2.6" stroke="#999" stroke-width="0.6" fill="none"/><path d="M0,0 C-0.6,-4.6 2,-7.6 4.8,-7.6 C6.6,-7.6 7.6,-7 8.3,-6.4 L10.2,-6.6 L11.8,-4.6 L11.5,-3.4 L9.4,-2.6 C9.5,-1.2 9,-0.2 8.4,0 Z" fill="#454545"/><circle cx="8.1" cy="-7.4" r="1.25" fill="#3a3a3a"/><circle cx="10.1" cy="-7.2" r="0.95" fill="#555"/></g>
<g transform="translate(471.00,211.20)"><path d="M0.6,-0.3 C-2,0.2 -5,0.3 -6.4,-2.6" stroke="#999" stroke-width="0.6" fill="none"/><path d="M0,0 C-0.6,-4.6 2,-7.6 4.8,-7.6 C6.6,-7.6 7.6,-7 8.3,-6.4 L10.2,-6.6 L11.8,-4.6 L11.5,-3.4 L9.4,-2.6 C9.5,-1.2 9,-0.2 8.4,0 Z" fill="#454545"/><circle cx="8.1" cy="-7.4" r="1.25" fill="#3a3a3a"/><circle cx="10.1" cy="-7.2" r="0.95" fill="#555"/></g>
<g transform="translate(442.70,242.30)"><path d="M0.6,-0.3 C-2,0.2 -5,0.3 -6.4,-2.6" stroke="#999" stroke-width="0.6" fill="none"/><path d="M0,0 C-0.6,-4.6 2,-7.6 4.8,-7.6 C6.6,-7.6 7.6,-7 8.3,-6.4 L10.2,-6.6 L11.8,-4.6 L11.5,-3.4 L9.4,-2.6 C9.5,-1.2 9,-0.2 8.4,0 Z" fill="#454545"/><circle cx="8.1" cy="-7.4" r="1.25" fill="#3a3a3a"/><circle cx="10.1" cy="-7.2" r="0.95" fill="#555"/></g>
<g transform="translate(469.80,242.30)"><path d="M0.6,-0.3 C-2,0.2 -5,0.3 -6.4,-2.6" stroke="#999" stroke-width="0.6" fill="none"/><path d="M0,0 C-0.6,-4.6 2,-7.6 4.8,-7.6 C6.6,-7.6 7.6,-7 8.3,-6.4 L10.2,-6.6 L11.8,-4.6 L11.5,-3.4 L9.4,-2.6 C9.5,-1.2 9,-0.2 8.4,0 Z" fill="#454545"/><circle cx="8.1" cy="-7.4" r="1.25" fill="#3a3a3a"/><circle cx="10.1" cy="-7.2" r="0.95" fill="#555"/></g>
<g transform="translate(0,0)"><path d="M454,232.4 C456,226.8 459.4,225.3 462.4,225.4 C465.4,225.5 467.8,227.3 469.9,230.1" stroke="#111" stroke-width="1.3" fill="none"/><path d="M472.1,233 L468.1,231.4 L471.3,228.9 Z" fill="#111"/></g>
<g transform="translate(0,-31.1)"><path d="M454,232.4 C456,226.8 459.4,225.3 462.4,225.4 C465.4,225.5 467.8,227.3 469.9,230.1" stroke="#111" stroke-width="1.3" fill="none"/><path d="M472.1,233 L468.1,231.4 L471.3,228.9 Z" fill="#111"/></g>
<text x="7.20" y="298.80" font-size="11.8" text-anchor="start" fill="#111" font-weight="bold">E</text>
<line x1="38.60" y1="313.80" x2="38.60" y2="392.20" stroke="#151515" stroke-width="1.3"/>
<line x1="37.95" y1="392.20" x2="107.70" y2="392.20" stroke="#151515" stroke-width="1.3"/>
<line x1="36.20" y1="316.40" x2="38.60" y2="316.40" stroke="#151515" stroke-width="0.9"/>
<text x="33.60" y="318.70" font-size="6.5" text-anchor="end" fill="#333">100</text>
<line x1="37.20" y1="326.95" x2="38.60" y2="326.95" stroke="#151515" stroke-width="0.5"/>
<line x1="37.20" y1="324.30" x2="38.60" y2="324.30" stroke="#151515" stroke-width="0.5"/>
<line x1="37.20" y1="322.41" x2="38.60" y2="322.41" stroke="#151515" stroke-width="0.5"/>
<line x1="37.20" y1="320.95" x2="38.60" y2="320.95" stroke="#151515" stroke-width="0.5"/>
<line x1="37.20" y1="319.75" x2="38.60" y2="319.75" stroke="#151515" stroke-width="0.5"/>
<line x1="37.20" y1="318.74" x2="38.60" y2="318.74" stroke="#151515" stroke-width="0.5"/>
<line x1="37.20" y1="317.86" x2="38.60" y2="317.86" stroke="#151515" stroke-width="0.5"/>
<line x1="37.20" y1="317.09" x2="38.60" y2="317.09" stroke="#151515" stroke-width="0.5"/>
<line x1="36.20" y1="331.50" x2="38.60" y2="331.50" stroke="#151515" stroke-width="0.9"/>
<text x="33.60" y="333.80" font-size="6.5" text-anchor="end" fill="#333">10</text>
<line x1="37.20" y1="342.05" x2="38.60" y2="342.05" stroke="#151515" stroke-width="0.5"/>
<line x1="37.20" y1="339.40" x2="38.60" y2="339.40" stroke="#151515" stroke-width="0.5"/>
<line x1="37.20" y1="337.51" x2="38.60" y2="337.51" stroke="#151515" stroke-width="0.5"/>
<line x1="37.20" y1="336.05" x2="38.60" y2="336.05" stroke="#151515" stroke-width="0.5"/>
<line x1="37.20" y1="334.85" x2="38.60" y2="334.85" stroke="#151515" stroke-width="0.5"/>
<line x1="37.20" y1="333.84" x2="38.60" y2="333.84" stroke="#151515" stroke-width="0.5"/>
<line x1="37.20" y1="332.96" x2="38.60" y2="332.96" stroke="#151515" stroke-width="0.5"/>
<line x1="37.20" y1="332.19" x2="38.60" y2="332.19" stroke="#151515" stroke-width="0.5"/>
<line x1="36.20" y1="346.60" x2="38.60" y2="346.60" stroke="#151515" stroke-width="0.9"/>
<text x="33.60" y="348.90" font-size="6.5" text-anchor="end" fill="#333">1</text>
<line x1="37.20" y1="357.15" x2="38.60" y2="357.15" stroke="#151515" stroke-width="0.5"/>
<line x1="37.20" y1="354.50" x2="38.60" y2="354.50" stroke="#151515" stroke-width="0.5"/>
<line x1="37.20" y1="352.61" x2="38.60" y2="352.61" stroke="#151515" stroke-width="0.5"/>
<line x1="37.20" y1="351.15" x2="38.60" y2="351.15" stroke="#151515" stroke-width="0.5"/>
<line x1="37.20" y1="349.95" x2="38.60" y2="349.95" stroke="#151515" stroke-width="0.5"/>
<line x1="37.20" y1="348.94" x2="38.60" y2="348.94" stroke="#151515" stroke-width="0.5"/>
<line x1="37.20" y1="348.06" x2="38.60" y2="348.06" stroke="#151515" stroke-width="0.5"/>
<line x1="37.20" y1="347.29" x2="38.60" y2="347.29" stroke="#151515" stroke-width="0.5"/>
<line x1="36.20" y1="361.60" x2="38.60" y2="361.60" stroke="#151515" stroke-width="0.9"/>
<text x="33.60" y="363.90" font-size="6.5" text-anchor="end" fill="#333">0.1</text>
<line x1="37.20" y1="372.15" x2="38.60" y2="372.15" stroke="#151515" stroke-width="0.5"/>
<line x1="37.20" y1="369.50" x2="38.60" y2="369.50" stroke="#151515" stroke-width="0.5"/>
<line x1="37.20" y1="367.61" x2="38.60" y2="367.61" stroke="#151515" stroke-width="0.5"/>
<line x1="37.20" y1="366.15" x2="38.60" y2="366.15" stroke="#151515" stroke-width="0.5"/>
<line x1="37.20" y1="364.95" x2="38.60" y2="364.95" stroke="#151515" stroke-width="0.5"/>
<line x1="37.20" y1="363.94" x2="38.60" y2="363.94" stroke="#151515" stroke-width="0.5"/>
<line x1="37.20" y1="363.06" x2="38.60" y2="363.06" stroke="#151515" stroke-width="0.5"/>
<line x1="37.20" y1="362.29" x2="38.60" y2="362.29" stroke="#151515" stroke-width="0.5"/>
<line x1="36.20" y1="376.70" x2="38.60" y2="376.70" stroke="#151515" stroke-width="0.9"/>
<text x="33.60" y="379.00" font-size="6.5" text-anchor="end" fill="#333">0.01</text>
<line x1="39.20" y1="376.70" x2="107.00" y2="376.70" stroke="#d8c4c4" stroke-width="0.8" stroke-dasharray="0.9 1.4"/>
<text x="14.40" y="353.00" font-size="8.3" text-anchor="middle" fill="#333" textLength="73" lengthAdjust="spacingAndGlyphs" transform="rotate(-90 14.40 353.00)">Human engraftment (%)</text>
<line x1="50.00" y1="392.20" x2="50.00" y2="395.20" stroke="#151515" stroke-width="0.9"/>
<text x="50.00" y="403.50" font-size="6.5" text-anchor="middle" fill="#333">50</text>
<line x1="73.00" y1="392.20" x2="73.00" y2="395.20" stroke="#151515" stroke-width="0.9"/>
<text x="73.00" y="403.50" font-size="6.5" text-anchor="middle" fill="#333">300</text>
<line x1="96.25" y1="392.20" x2="96.25" y2="395.20" stroke="#151515" stroke-width="0.9"/>
<text x="96.25" y="403.50" font-size="6.5" text-anchor="middle" fill="#333">700</text>
<text x="73.50" y="415.60" font-size="9.3" text-anchor="middle" fill="#333" stroke="#333" stroke-width="0.12" textLength="27.5" lengthAdjust="spacingAndGlyphs">Cell dose</text>
<circle cx="52.00" cy="424.40" r="1.7" fill="#fff" stroke="#707070" stroke-width="1.3"/>
<text x="57.40" y="426.70" font-size="6.6" text-anchor="start" fill="#333" textLength="16.8" lengthAdjust="spacingAndGlyphs">UNTR</text>
<circle cx="83.00" cy="424.40" r="1.8" fill="#3da0cc" stroke="#1d6890" stroke-width="1.3"/>
<text x="87.60" y="426.70" font-size="6.6" text-anchor="start" fill="#333" textLength="8.4" lengthAdjust="spacingAndGlyphs">PD</text>
<circle cx="44.60" cy="318.60" r="1.7" fill="#fff" stroke="#7a7a7a" stroke-width="1.15"/>
<circle cx="44.60" cy="340.00" r="1.7" fill="#fff" stroke="#7a7a7a" stroke-width="1.15"/>
<circle cx="44.60" cy="349.20" r="1.7" fill="#fff" stroke="#7a7a7a" stroke-width="1.15"/>
<circle cx="44.60" cy="356.10" r="1.7" fill="#fff" stroke="#7a7a7a" stroke-width="1.15"/>
<circle cx="67.00" cy="316.50" r="1.7" fill="#fff" stroke="#7a7a7a" stroke-width="1.15"/>
<circle cx="69.50" cy="317.50" r="1.7" fill="#fff" stroke="#7a7a7a" stroke-width="1.15"/>
<circle cx="66.50" cy="319.50" r="1.7" fill="#fff" stroke="#7a7a7a" stroke-width="1.15"/>
<circle cx="70.50" cy="320.00" r="1.7" fill="#fff" stroke="#7a7a7a" stroke-width="1.15"/>
<circle cx="68.00" cy="324.10" r="1.7" fill="#fff" stroke="#7a7a7a" stroke-width="1.15"/>
<circle cx="67.30" cy="337.80" r="1.7" fill="#fff" stroke="#7a7a7a" stroke-width="1.15"/>
<circle cx="69.00" cy="337.20" r="1.7" fill="#fff" stroke="#7a7a7a" stroke-width="1.15"/>
<circle cx="68.00" cy="352.00" r="1.7" fill="#fff" stroke="#7a7a7a" stroke-width="1.15"/>
<circle cx="89.70" cy="317.50" r="1.7" fill="#fff" stroke="#7a7a7a" stroke-width="1.15"/>
<circle cx="91.00" cy="319.60" r="1.7" fill="#fff" stroke="#7a7a7a" stroke-width="1.15"/>
<circle cx="89.70" cy="322.30" r="1.7" fill="#fff" stroke="#7a7a7a" stroke-width="1.15"/>
<circle cx="91.50" cy="323.00" r="1.7" fill="#fff" stroke="#7a7a7a" stroke-width="1.15"/>
<circle cx="90.30" cy="325.80" r="1.7" fill="#fff" stroke="#7a7a7a" stroke-width="1.15"/>
<circle cx="91.00" cy="329.70" r="1.7" fill="#fff" stroke="#7a7a7a" stroke-width="1.15"/>
<circle cx="90.30" cy="332.70" r="1.7" fill="#fff" stroke="#7a7a7a" stroke-width="1.15"/>
<circle cx="91.30" cy="341.00" r="1.7" fill="#fff" stroke="#7a7a7a" stroke-width="1.15"/>
<circle cx="91.30" cy="344.80" r="1.7" fill="#fff" stroke="#7a7a7a" stroke-width="1.15"/>
<circle cx="91.30" cy="349.20" r="1.7" fill="#fff" stroke="#7a7a7a" stroke-width="1.15"/>
<circle cx="91.30" cy="361.00" r="1.7" fill="#fff" stroke="#7a7a7a" stroke-width="1.15"/>
<circle cx="54.50" cy="322.30" r="1.72" fill="#3fa3cf" stroke="#1b6387" stroke-width="1.1"/>
<circle cx="52.90" cy="351.30" r="1.72" fill="#3fa3cf" stroke="#1b6387" stroke-width="1.1"/>
<circle cx="55.90" cy="354.70" r="1.72" fill="#3fa3cf" stroke="#1b6387" stroke-width="1.1"/>
<circle cx="54.50" cy="367.10" r="1.72" fill="#3fa3cf" stroke="#1b6387" stroke-width="1.1"/>
<circle cx="77.50" cy="317.50" r="1.72" fill="#3fa3cf" stroke="#1b6387" stroke-width="1.1"/>
<circle cx="79.00" cy="319.00" r="1.72" fill="#3fa3cf" stroke="#1b6387" stroke-width="1.1"/>
<circle cx="77.00" cy="321.00" r="1.72" fill="#3fa3cf" stroke="#1b6387" stroke-width="1.1"/>
<circle cx="78.50" cy="323.00" r="1.72" fill="#3fa3cf" stroke="#1b6387" stroke-width="1.1"/>
<circle cx="77.50" cy="325.00" r="1.72" fill="#3fa3cf" stroke="#1b6387" stroke-width="1.1"/>
<circle cx="79.00" cy="326.50" r="1.72" fill="#3fa3cf" stroke="#1b6387" stroke-width="1.1"/>
<circle cx="77.50" cy="328.50" r="1.72" fill="#3fa3cf" stroke="#1b6387" stroke-width="1.1"/>
<circle cx="78.00" cy="331.30" r="1.72" fill="#3fa3cf" stroke="#1b6387" stroke-width="1.1"/>
<circle cx="77.90" cy="343.40" r="1.72" fill="#3fa3cf" stroke="#1b6387" stroke-width="1.1"/>
<circle cx="77.90" cy="349.50" r="1.72" fill="#3fa3cf" stroke="#1b6387" stroke-width="1.1"/>
<circle cx="77.90" cy="365.40" r="1.72" fill="#3fa3cf" stroke="#1b6387" stroke-width="1.1"/>
<circle cx="100.70" cy="319.60" r="1.72" fill="#3fa3cf" stroke="#1b6387" stroke-width="1.1"/>
<circle cx="100.00" cy="322.30" r="1.72" fill="#3fa3cf" stroke="#1b6387" stroke-width="1.1"/>
<circle cx="101.30" cy="323.80" r="1.72" fill="#3fa3cf" stroke="#1b6387" stroke-width="1.1"/>
<circle cx="100.70" cy="325.80" r="1.72" fill="#3fa3cf" stroke="#1b6387" stroke-width="1.1"/>
<circle cx="100.70" cy="328.60" r="1.72" fill="#3fa3cf" stroke="#1b6387" stroke-width="1.1"/>
<circle cx="100.20" cy="331.00" r="1.72" fill="#3fa3cf" stroke="#1b6387" stroke-width="1.1"/>
<circle cx="100.70" cy="334.00" r="1.72" fill="#3fa3cf" stroke="#1b6387" stroke-width="1.1"/>
<circle cx="100.70" cy="336.10" r="1.72" fill="#3fa3cf" stroke="#1b6387" stroke-width="1.1"/>
<circle cx="100.70" cy="346.50" r="1.72" fill="#3fa3cf" stroke="#1b6387" stroke-width="1.1"/>
<circle cx="100.70" cy="370.00" r="1.72" fill="#3fa3cf" stroke="#1b6387" stroke-width="1.1"/>
<line x1="40.80" y1="343.40" x2="48.70" y2="343.40" stroke="#222" stroke-width="1"/>
<line x1="51.10" y1="353.00" x2="58.70" y2="353.00" stroke="#222" stroke-width="1"/>
<line x1="64.20" y1="319.60" x2="71.70" y2="319.60" stroke="#222" stroke-width="1"/>
<line x1="74.50" y1="325.80" x2="82.00" y2="325.80" stroke="#222" stroke-width="1"/>
<line x1="86.90" y1="328.30" x2="95.20" y2="328.30" stroke="#222" stroke-width="1"/>
<line x1="97.70" y1="326.50" x2="105.50" y2="326.50" stroke="#222" stroke-width="1"/>
<text x="124.20" y="299.20" font-size="11.8" text-anchor="start" fill="#111" font-weight="bold">F</text>
<line x1="154.40" y1="308.00" x2="154.40" y2="392.20" stroke="#151515" stroke-width="1.3"/>
<line x1="153.75" y1="392.20" x2="228.80" y2="392.20" stroke="#151515" stroke-width="1.3"/>
<line x1="152.00" y1="310.30" x2="154.40" y2="310.30" stroke="#151515" stroke-width="0.9"/>
<text x="149.40" y="312.60" font-size="6.5" text-anchor="end" fill="#333">100</text>
<line x1="153.00" y1="321.76" x2="154.40" y2="321.76" stroke="#151515" stroke-width="0.5"/>
<line x1="153.00" y1="318.88" x2="154.40" y2="318.88" stroke="#151515" stroke-width="0.5"/>
<line x1="153.00" y1="316.83" x2="154.40" y2="316.83" stroke="#151515" stroke-width="0.5"/>
<line x1="153.00" y1="315.24" x2="154.40" y2="315.24" stroke="#151515" stroke-width="0.5"/>
<line x1="153.00" y1="313.94" x2="154.40" y2="313.94" stroke="#151515" stroke-width="0.5"/>
<line x1="153.00" y1="312.84" x2="154.40" y2="312.84" stroke="#151515" stroke-width="0.5"/>
<line x1="153.00" y1="311.89" x2="154.40" y2="311.89" stroke="#151515" stroke-width="0.5"/>
<line x1="153.00" y1="311.05" x2="154.40" y2="311.05" stroke="#151515" stroke-width="0.5"/>
<line x1="152.00" y1="326.80" x2="154.40" y2="326.80" stroke="#151515" stroke-width="0.9"/>
<text x="149.40" y="329.10" font-size="6.5" text-anchor="end" fill="#333">10</text>
<line x1="153.00" y1="338.26" x2="154.40" y2="338.26" stroke="#151515" stroke-width="0.5"/>
<line x1="153.00" y1="335.38" x2="154.40" y2="335.38" stroke="#151515" stroke-width="0.5"/>
<line x1="153.00" y1="333.33" x2="154.40" y2="333.33" stroke="#151515" stroke-width="0.5"/>
<line x1="153.00" y1="331.74" x2="154.40" y2="331.74" stroke="#151515" stroke-width="0.5"/>
<line x1="153.00" y1="330.44" x2="154.40" y2="330.44" stroke="#151515" stroke-width="0.5"/>
<line x1="153.00" y1="329.34" x2="154.40" y2="329.34" stroke="#151515" stroke-width="0.5"/>
<line x1="153.00" y1="328.39" x2="154.40" y2="328.39" stroke="#151515" stroke-width="0.5"/>
<line x1="153.00" y1="327.55" x2="154.40" y2="327.55" stroke="#151515" stroke-width="0.5"/>
<line x1="152.00" y1="342.90" x2="154.40" y2="342.90" stroke="#151515" stroke-width="0.9"/>
<text x="149.40" y="345.20" font-size="6.5" text-anchor="end" fill="#333">1</text>
<line x1="153.00" y1="354.36" x2="154.40" y2="354.36" stroke="#151515" stroke-width="0.5"/>
<line x1="153.00" y1="351.48" x2="154.40" y2="351.48" stroke="#151515" stroke-width="0.5"/>
<line x1="153.00" y1="349.43" x2="154.40" y2="349.43" stroke="#151515" stroke-width="0.5"/>
<line x1="153.00" y1="347.84" x2="154.40" y2="347.84" stroke="#151515" stroke-width="0.5"/>
<line x1="153.00" y1="346.54" x2="154.40" y2="346.54" stroke="#151515" stroke-width="0.5"/>
<line x1="153.00" y1="345.44" x2="154.40" y2="345.44" stroke="#151515" stroke-width="0.5"/>
<line x1="153.00" y1="344.49" x2="154.40" y2="344.49" stroke="#151515" stroke-width="0.5"/>
<line x1="153.00" y1="343.65" x2="154.40" y2="343.65" stroke="#151515" stroke-width="0.5"/>
<line x1="152.00" y1="359.30" x2="154.40" y2="359.30" stroke="#151515" stroke-width="0.9"/>
<text x="149.40" y="361.60" font-size="6.5" text-anchor="end" fill="#333">0.1</text>
<line x1="153.00" y1="370.76" x2="154.40" y2="370.76" stroke="#151515" stroke-width="0.5"/>
<line x1="153.00" y1="367.88" x2="154.40" y2="367.88" stroke="#151515" stroke-width="0.5"/>
<line x1="153.00" y1="365.83" x2="154.40" y2="365.83" stroke="#151515" stroke-width="0.5"/>
<line x1="153.00" y1="364.24" x2="154.40" y2="364.24" stroke="#151515" stroke-width="0.5"/>
<line x1="153.00" y1="362.94" x2="154.40" y2="362.94" stroke="#151515" stroke-width="0.5"/>
<line x1="153.00" y1="361.84" x2="154.40" y2="361.84" stroke="#151515" stroke-width="0.5"/>
<line x1="153.00" y1="360.89" x2="154.40" y2="360.89" stroke="#151515" stroke-width="0.5"/>
<line x1="153.00" y1="360.05" x2="154.40" y2="360.05" stroke="#151515" stroke-width="0.5"/>
<line x1="152.00" y1="375.80" x2="154.40" y2="375.80" stroke="#151515" stroke-width="0.9"/>
<text x="149.40" y="378.10" font-size="6.5" text-anchor="end" fill="#333">0.01</text>
<line x1="155.00" y1="375.80" x2="228.00" y2="375.80" stroke="#d8c4c4" stroke-width="0.8" stroke-dasharray="0.9 1.4"/>
<text x="130.60" y="349.20" font-size="8.3" text-anchor="middle" fill="#333" textLength="74" lengthAdjust="spacingAndGlyphs" transform="rotate(-90 130.60 349.20)">Human engraftment (%)</text>
<line x1="166.25" y1="392.20" x2="166.25" y2="395.20" stroke="#151515" stroke-width="0.9"/>
<text x="166.25" y="403.50" font-size="6.5" text-anchor="middle" fill="#333">8000</text>
<line x1="191.25" y1="392.20" x2="191.25" y2="395.20" stroke="#151515" stroke-width="0.9"/>
<text x="191.25" y="403.50" font-size="6.5" text-anchor="middle" fill="#333">25000</text>
<line x1="216.25" y1="392.20" x2="216.25" y2="395.20" stroke="#151515" stroke-width="0.9"/>
<text x="216.25" y="403.50" font-size="6.5" text-anchor="middle" fill="#333">55000</text>
<text x="191.20" y="415.60" font-size="9.3" text-anchor="middle" fill="#333" stroke="#333" stroke-width="0.12" textLength="27.5" lengthAdjust="spacingAndGlyphs">Cell dose</text>
<circle cx="170.60" cy="424.30" r="1.6" fill="#fff" stroke="#707070" stroke-width="1.3"/>
<text x="175.60" y="426.70" font-size="6.6" text-anchor="start" fill="#333" textLength="17.2" lengthAdjust="spacingAndGlyphs">UNTR</text>
<circle cx="200.60" cy="424.30" r="2.1" fill="#9c1a33"/>
<text x="206.20" y="426.70" font-size="6.6" text-anchor="start" fill="#333" textLength="8.2" lengthAdjust="spacingAndGlyphs">PD</text>
<circle cx="160.90" cy="335.70" r="1.7" fill="#fff" stroke="#7a7a7a" stroke-width="1.15"/>
<circle cx="160.90" cy="353.20" r="1.7" fill="#fff" stroke="#7a7a7a" stroke-width="1.15"/>
<circle cx="160.90" cy="357.80" r="1.7" fill="#fff" stroke="#7a7a7a" stroke-width="1.15"/>
<circle cx="160.90" cy="361.90" r="1.7" fill="#fff" stroke="#7a7a7a" stroke-width="1.15"/>
<circle cx="186.10" cy="330.40" r="1.7" fill="#fff" stroke="#7a7a7a" stroke-width="1.15"/>
<circle cx="186.10" cy="332.50" r="1.7" fill="#fff" stroke="#7a7a7a" stroke-width="1.15"/>
<circle cx="185.70" cy="336.00" r="1.7" fill="#fff" stroke="#7a7a7a" stroke-width="1.15"/>
<circle cx="184.70" cy="345.60" r="1.7" fill="#fff" stroke="#7a7a7a" stroke-width="1.15"/>
<circle cx="186.10" cy="346.00" r="1.7" fill="#fff" stroke="#7a7a7a" stroke-width="1.15"/>
<circle cx="187.50" cy="347.00" r="1.7" fill="#fff" stroke="#7a7a7a" stroke-width="1.15"/>
<circle cx="186.10" cy="351.10" r="1.7" fill="#fff" stroke="#7a7a7a" stroke-width="1.15"/>
<circle cx="186.10" cy="359.40" r="1.7" fill="#fff" stroke="#7a7a7a" stroke-width="1.15"/>
<circle cx="211.40" cy="324.10" r="1.7" fill="#fff" stroke="#7a7a7a" stroke-width="1.15"/>
<circle cx="210.10" cy="326.40" r="1.7" fill="#fff" stroke="#7a7a7a" stroke-width="1.15"/>
<circle cx="210.80" cy="328.30" r="1.7" fill="#fff" stroke="#7a7a7a" stroke-width="1.15"/>
<circle cx="210.80" cy="331.50" r="1.7" fill="#fff" stroke="#7a7a7a" stroke-width="1.15"/>
<circle cx="209.50" cy="334.00" r="1.7" fill="#fff" stroke="#7a7a7a" stroke-width="1.15"/>
<circle cx="211.40" cy="335.90" r="1.7" fill="#fff" stroke="#7a7a7a" stroke-width="1.15"/>
<circle cx="209.50" cy="338.40" r="1.7" fill="#fff" stroke="#7a7a7a" stroke-width="1.15"/>
<circle cx="211.40" cy="339.00" r="1.7" fill="#fff" stroke="#7a7a7a" stroke-width="1.15"/>
<circle cx="170.20" cy="340.10" r="2.15" fill="#9c1a33"/>
<circle cx="172.30" cy="342.20" r="2.15" fill="#9c1a33"/>
<circle cx="173.60" cy="342.90" r="2.15" fill="#9c1a33"/>
<circle cx="171.60" cy="353.20" r="2.15" fill="#9c1a33"/>
<circle cx="195.70" cy="331.80" r="2.15" fill="#9c1a33"/>
<circle cx="196.40" cy="333.90" r="2.15" fill="#9c1a33"/>
<circle cx="195.00" cy="336.00" r="2.15" fill="#9c1a33"/>
<circle cx="197.10" cy="337.30" r="2.15" fill="#9c1a33"/>
<circle cx="196.20" cy="349.80" r="2.15" fill="#9c1a33"/>
<circle cx="196.20" cy="361.50" r="2.15" fill="#9c1a33"/>
<circle cx="196.20" cy="373.20" r="2.15" fill="#9c1a33"/>
<circle cx="220.90" cy="325.80" r="2.15" fill="#9c1a33"/>
<circle cx="220.90" cy="327.80" r="2.15" fill="#9c1a33"/>
<circle cx="220.30" cy="329.60" r="2.15" fill="#9c1a33"/>
<circle cx="221.50" cy="331.80" r="2.15" fill="#9c1a33"/>
<circle cx="220.90" cy="334.00" r="2.15" fill="#9c1a33"/>
<circle cx="220.30" cy="336.20" r="2.15" fill="#9c1a33"/>
<circle cx="221.50" cy="338.40" r="2.15" fill="#9c1a33"/>
<circle cx="220.90" cy="341.60" r="2.15" fill="#9c1a33"/>
<circle cx="220.90" cy="363.10" r="2.15" fill="#9c1a33"/>
<line x1="157.50" y1="355.00" x2="165.80" y2="355.00" stroke="#222" stroke-width="1"/>
<line x1="168.10" y1="342.90" x2="175.70" y2="342.90" stroke="#222" stroke-width="1"/>
<line x1="182.00" y1="347.30" x2="190.20" y2="347.30" stroke="#222" stroke-width="1"/>
<line x1="193.00" y1="336.00" x2="199.90" y2="336.00" stroke="#222" stroke-width="1"/>
<line x1="207.00" y1="334.60" x2="215.20" y2="334.60" stroke="#222" stroke-width="1"/>
<line x1="217.70" y1="334.60" x2="225.30" y2="334.60" stroke="#222" stroke-width="1"/>
<text x="244.50" y="299.00" font-size="11.8" text-anchor="start" fill="#111" font-weight="bold">G</text>
<line x1="271.90" y1="308.80" x2="271.90" y2="392.20" stroke="#151515" stroke-width="1.3"/>
<line x1="271.40" y1="392.20" x2="330.90" y2="392.20" stroke="#151515" stroke-width="1.3"/>
<line x1="269.50" y1="311.50" x2="271.90" y2="311.50" stroke="#151515" stroke-width="0.9"/>
<text x="266.50" y="313.80" font-size="6.5" text-anchor="end" fill="#333">10</text>
<line x1="270.30" y1="339.70" x2="271.90" y2="339.70" stroke="#151515" stroke-width="0.5"/>
<line x1="270.30" y1="332.60" x2="271.90" y2="332.60" stroke="#151515" stroke-width="0.5"/>
<line x1="270.30" y1="327.56" x2="271.90" y2="327.56" stroke="#151515" stroke-width="0.5"/>
<line x1="270.30" y1="323.65" x2="271.90" y2="323.65" stroke="#151515" stroke-width="0.5"/>
<line x1="270.30" y1="320.45" x2="271.90" y2="320.45" stroke="#151515" stroke-width="0.5"/>
<line x1="270.30" y1="317.75" x2="271.90" y2="317.75" stroke="#151515" stroke-width="0.5"/>
<line x1="270.30" y1="315.41" x2="271.90" y2="315.41" stroke="#151515" stroke-width="0.5"/>
<line x1="270.30" y1="313.35" x2="271.90" y2="313.35" stroke="#151515" stroke-width="0.5"/>
<line x1="269.50" y1="351.80" x2="271.90" y2="351.80" stroke="#151515" stroke-width="0.9"/>
<text x="266.50" y="354.10" font-size="6.5" text-anchor="end" fill="#333">1</text>
<line x1="270.30" y1="380.00" x2="271.90" y2="380.00" stroke="#151515" stroke-width="0.5"/>
<line x1="270.30" y1="372.90" x2="271.90" y2="372.90" stroke="#151515" stroke-width="0.5"/>
<line x1="270.30" y1="367.86" x2="271.90" y2="367.86" stroke="#151515" stroke-width="0.5"/>
<line x1="270.30" y1="363.95" x2="271.90" y2="363.95" stroke="#151515" stroke-width="0.5"/>
<line x1="270.30" y1="360.75" x2="271.90" y2="360.75" stroke="#151515" stroke-width="0.5"/>
<line x1="270.30" y1="358.05" x2="271.90" y2="358.05" stroke="#151515" stroke-width="0.5"/>
<line x1="270.30" y1="355.71" x2="271.90" y2="355.71" stroke="#151515" stroke-width="0.5"/>
<line x1="270.30" y1="353.65" x2="271.90" y2="353.65" stroke="#151515" stroke-width="0.5"/>
<line x1="269.50" y1="392.20" x2="271.90" y2="392.20" stroke="#151515" stroke-width="0.9"/>
<text x="266.50" y="394.50" font-size="6.5" text-anchor="end" fill="#333">0.1</text>
<text x="252.40" y="350.30" font-size="8.3" text-anchor="middle" fill="#333" textLength="27.3" lengthAdjust="spacingAndGlyphs" transform="rotate(-90 252.40 350.30)">LTRC (%)</text>
<line x1="286.40" y1="392.20" x2="286.40" y2="395.20" stroke="#151515" stroke-width="0.9"/>
<text x="286.40" y="403.50" font-size="6.5" text-anchor="middle" fill="#333">24</text>
<line x1="316.40" y1="392.20" x2="316.40" y2="395.20" stroke="#151515" stroke-width="0.9"/>
<text x="316.40" y="403.50" font-size="6.5" text-anchor="middle" fill="#333">72</text>
<text x="301.70" y="415.60" font-size="9.3" text-anchor="middle" fill="#333" stroke="#333" stroke-width="0.12" textLength="47.8" lengthAdjust="spacingAndGlyphs">Hours of culture</text>
<line x1="279.10" y1="337.50" x2="279.10" y2="358.20" stroke="#5c5c5c" stroke-width="0.9"/>
<line x1="276.20" y1="337.50" x2="282.00" y2="337.50" stroke="#5c5c5c" stroke-width="1.0"/>
<line x1="276.20" y1="358.20" x2="282.00" y2="358.20" stroke="#5c5c5c" stroke-width="1.0"/>
<rect x="276.35" y="346.05" width="5.50" height="5.50" fill="#c5c5c5"/>
<line x1="294.70" y1="329.20" x2="294.70" y2="353.90" stroke="#4c4c4c" stroke-width="0.9"/>
<line x1="291.80" y1="329.20" x2="297.60" y2="329.20" stroke="#4c4c4c" stroke-width="1.0"/>
<line x1="291.80" y1="353.90" x2="297.60" y2="353.90" stroke="#4c4c4c" stroke-width="1.0"/>
<rect x="291.95" y="338.15" width="5.50" height="5.50" fill="#2ea7dd"/>
<line x1="309.40" y1="362.60" x2="309.40" y2="379.20" stroke="#5c5c5c" stroke-width="0.9"/>
<line x1="306.50" y1="362.60" x2="312.30" y2="362.60" stroke="#5c5c5c" stroke-width="1.0"/>
<line x1="306.50" y1="379.20" x2="312.30" y2="379.20" stroke="#5c5c5c" stroke-width="1.0"/>
<rect x="306.65" y="368.45" width="5.50" height="5.50" fill="#c5c5c5"/>
<line x1="325.00" y1="358.80" x2="325.00" y2="374.00" stroke="#5a5550" stroke-width="0.9"/>
<line x1="322.10" y1="358.80" x2="327.90" y2="358.80" stroke="#5a5550" stroke-width="1.0"/>
<line x1="322.10" y1="374.00" x2="327.90" y2="374.00" stroke="#5a5550" stroke-width="1.0"/>
<rect x="322.25" y="364.25" width="5.50" height="5.50" fill="#2ea7dd"/>
<line x1="322.10" y1="358.80" x2="327.90" y2="358.80" stroke="#c8884a" stroke-width="1.0"/>
<rect x="277.60" y="422.00" width="4.80" height="4.80" fill="#c5c5c5"/>
<text x="285.80" y="426.70" font-size="6.6" text-anchor="start" fill="#333" textLength="17.2" lengthAdjust="spacingAndGlyphs">UNTR</text>
<rect x="309.00" y="422.00" width="4.70" height="4.70" fill="#2ea7dd"/>
<text x="317.00" y="426.70" font-size="6.6" text-anchor="start" fill="#333" textLength="8.6" lengthAdjust="spacingAndGlyphs">PD</text>
<line x1="278.50" y1="324.70" x2="295.70" y2="324.70" stroke="#444" stroke-width="0.95"/>
<line x1="278.50" y1="323.50" x2="278.50" y2="325.90" stroke="#333" stroke-width="0.9"/>
<line x1="295.70" y1="323.50" x2="295.70" y2="325.90" stroke="#333" stroke-width="0.9"/>
<text x="287.10" y="322.30" font-size="6.2" text-anchor="middle" fill="#333" font-style="italic">n/s</text>
<line x1="279.10" y1="315.60" x2="308.70" y2="315.60" stroke="#444" stroke-width="0.95"/>
<line x1="279.10" y1="314.40" x2="279.10" y2="316.80" stroke="#333" stroke-width="0.9"/>
<line x1="308.70" y1="314.40" x2="308.70" y2="316.80" stroke="#333" stroke-width="0.9"/>
<text x="293.90" y="313.60" font-size="6.2" text-anchor="middle" fill="#333" font-style="italic">0.0013</text>
<line x1="295.70" y1="306.30" x2="325.70" y2="306.30" stroke="#444" stroke-width="0.95"/>
<line x1="295.70" y1="305.10" x2="295.70" y2="307.50" stroke="#333" stroke-width="0.9"/>
<line x1="325.70" y1="305.10" x2="325.70" y2="307.50" stroke="#333" stroke-width="0.9"/>
<text x="310.70" y="304.20" font-size="6.2" text-anchor="middle" fill="#333" font-style="italic">0.0003</text>
<line x1="307.00" y1="352.90" x2="325.70" y2="352.90" stroke="#444" stroke-width="0.95"/>
<line x1="307.00" y1="351.70" x2="307.00" y2="354.10" stroke="#333" stroke-width="0.9"/>
<line x1="325.70" y1="351.70" x2="325.70" y2="354.10" stroke="#333" stroke-width="0.9"/>
<text x="316.35" y="350.50" font-size="6.2" text-anchor="middle" fill="#333" font-style="italic">n/s</text>
<text x="347.10" y="299.00" font-size="11.8" text-anchor="start" fill="#111" font-weight="bold">H</text>
<line x1="377.20" y1="308.80" x2="377.20" y2="392.20" stroke="#151515" stroke-width="1.3"/>
<line x1="376.70" y1="392.20" x2="422.80" y2="392.20" stroke="#151515" stroke-width="1.3"/>
<line x1="374.80" y1="310.90" x2="377.20" y2="310.90" stroke="#151515" stroke-width="0.9"/>
<text x="371.60" y="313.10" font-size="6.3" text-anchor="end" fill="#333">10<tspan font-size="4.2" dy="-2.8">-3</tspan></text>
<line x1="374.80" y1="330.90" x2="377.20" y2="330.90" stroke="#151515" stroke-width="0.9"/>
<text x="371.60" y="333.10" font-size="6.3" text-anchor="end" fill="#333">10<tspan font-size="4.2" dy="-2.8">-4</tspan></text>
<line x1="374.80" y1="350.90" x2="377.20" y2="350.90" stroke="#151515" stroke-width="0.9"/>
<text x="371.60" y="353.10" font-size="6.3" text-anchor="end" fill="#333">10<tspan font-size="4.2" dy="-2.8">-5</tspan></text>
<line x1="374.80" y1="371.00" x2="377.20" y2="371.00" stroke="#151515" stroke-width="0.9"/>
<text x="371.60" y="373.20" font-size="6.3" text-anchor="end" fill="#333">10<tspan font-size="4.2" dy="-2.8">-6</tspan></text>
<line x1="374.80" y1="391.50" x2="377.20" y2="391.50" stroke="#151515" stroke-width="0.9"/>
<text x="371.60" y="393.70" font-size="6.3" text-anchor="end" fill="#333">10<tspan font-size="4.2" dy="-2.8">-7</tspan></text>
<text x="354.20" y="352.70" font-size="7.8" text-anchor="middle" fill="#333" textLength="24.7" lengthAdjust="spacingAndGlyphs" transform="rotate(-90 354.20 352.70)">LTRC (%)</text>
<line x1="389.70" y1="392.20" x2="389.70" y2="395.20" stroke="#151515" stroke-width="0.9"/>
<line x1="410.30" y1="392.20" x2="410.30" y2="395.20" stroke="#151515" stroke-width="0.9"/>
<text x="389.80" y="403.50" font-size="6.6" text-anchor="middle" fill="#333" textLength="17" lengthAdjust="spacingAndGlyphs">UNTR</text>
<text x="410.30" y="403.50" font-size="6.6" text-anchor="middle" fill="#333" textLength="8.3" lengthAdjust="spacingAndGlyphs">PD</text>
<line x1="389.70" y1="319.80" x2="389.70" y2="345.00" stroke="#585858" stroke-width="0.9"/>
<line x1="386.30" y1="319.80" x2="393.10" y2="319.80" stroke="#585858" stroke-width="1.0"/>
<line x1="386.30" y1="345.00" x2="393.10" y2="345.00" stroke="#585858" stroke-width="1.0"/>
<rect x="387.00" y="329.50" width="5.40" height="5.40" fill="#c5c5c5"/>
<line x1="410.30" y1="312.30" x2="410.30" y2="330.90" stroke="#5e4c48" stroke-width="0.9"/>
<line x1="406.90" y1="312.30" x2="413.70" y2="312.30" stroke="#5e4c48" stroke-width="1.0"/>
<line x1="406.90" y1="330.90" x2="413.70" y2="330.90" stroke="#5e4c48" stroke-width="1.0"/>
<rect x="407.50" y="319.00" width="5.60" height="5.60" fill="#2ea7dd"/>
<line x1="391.30" y1="308.80" x2="409.30" y2="308.80" stroke="#444" stroke-width="0.95"/>
<line x1="391.30" y1="307.60" x2="391.30" y2="310.00" stroke="#333" stroke-width="0.9"/>
<line x1="409.30" y1="307.60" x2="409.30" y2="310.00" stroke="#333" stroke-width="0.9"/>
<text x="400.30" y="306.40" font-size="6.2" text-anchor="middle" fill="#333" font-style="italic">n/s</text>
<text x="437.90" y="298.90" font-size="11.8" text-anchor="start" fill="#111" font-weight="bold">I</text>
<line x1="468.30" y1="308.80" x2="468.30" y2="392.20" stroke="#151515" stroke-width="1.3"/>
<line x1="467.80" y1="392.20" x2="512.80" y2="392.20" stroke="#151515" stroke-width="1.3"/>
<line x1="465.90" y1="311.50" x2="468.30" y2="311.50" stroke="#151515" stroke-width="0.9"/>
<text x="463.60" y="313.70" font-size="6.3" text-anchor="end" fill="#333">10<tspan font-size="4.2" dy="-2.8">-3</tspan></text>
<line x1="465.90" y1="351.80" x2="468.30" y2="351.80" stroke="#151515" stroke-width="0.9"/>
<text x="463.60" y="354.00" font-size="6.3" text-anchor="end" fill="#333">10<tspan font-size="4.2" dy="-2.8">-4</tspan></text>
<line x1="465.90" y1="392.20" x2="468.30" y2="392.20" stroke="#151515" stroke-width="0.9"/>
<text x="463.60" y="394.40" font-size="6.3" text-anchor="end" fill="#333">10<tspan font-size="4.2" dy="-2.8">-5</tspan></text>
<text x="445.60" y="352.30" font-size="7.8" text-anchor="middle" fill="#333" textLength="25" lengthAdjust="spacingAndGlyphs" transform="rotate(-90 445.60 352.30)">LTRC (%)</text>
<line x1="480.30" y1="392.20" x2="480.30" y2="395.20" stroke="#151515" stroke-width="0.9"/>
<line x1="501.40" y1="392.20" x2="501.40" y2="395.20" stroke="#151515" stroke-width="0.9"/>
<text x="480.70" y="403.50" font-size="6.6" text-anchor="middle" fill="#333" textLength="16.6" lengthAdjust="spacingAndGlyphs">UNTR</text>
<text x="501.70" y="403.50" font-size="6.6" text-anchor="middle" fill="#333" textLength="7.6" lengthAdjust="spacingAndGlyphs">PD</text>
<line x1="480.30" y1="324.70" x2="480.30" y2="358.50" stroke="#555" stroke-width="0.9"/>
<line x1="476.50" y1="324.70" x2="484.10" y2="324.70" stroke="#555" stroke-width="1.0"/>
<line x1="476.50" y1="358.50" x2="484.10" y2="358.50" stroke="#555" stroke-width="1.0"/>
<rect x="477.70" y="338.90" width="5.20" height="5.20" fill="#c5c5c5"/>
<line x1="501.40" y1="324.70" x2="501.40" y2="362.60" stroke="#555" stroke-width="0.9"/>
<line x1="497.60" y1="324.70" x2="505.20" y2="324.70" stroke="#555" stroke-width="1.0"/>
<line x1="497.60" y1="362.60" x2="505.20" y2="362.60" stroke="#555" stroke-width="1.0"/>
<rect x="498.50" y="341.10" width="5.80" height="5.80" fill="#c8102e"/>
</svg>
</body></html>
